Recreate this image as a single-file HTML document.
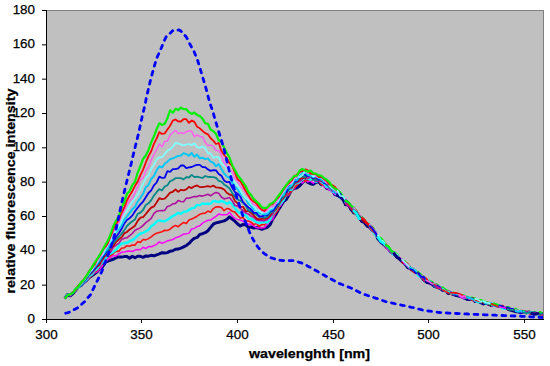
<!DOCTYPE html>
<html><head><meta charset="utf-8"><style>
html,body{margin:0;padding:0;background:#fff;width:550px;height:366px;overflow:hidden}
svg{display:block}
text{font-family:"Liberation Sans",sans-serif;font-size:13.4px;fill:#000;stroke:#000;stroke-width:0.25px}
.t{font-weight:bold;font-size:12.5px}
</style></head><body>
<svg width="550" height="366" viewBox="0 0 550 366">
<rect x="0" y="0" width="550" height="366" fill="#fff"/>
<rect x="46.5" y="10.5" width="497" height="309" fill="#C0C0C0" stroke="#808080" stroke-width="1"/>
<clipPath id="cp"><rect x="47" y="11" width="496" height="308"/></clipPath>
<g clip-path="url(#cp)">
<path d="M64.8 298.3L67.5 294.6L70.2 295.8L72.9 293.5L75.6 290.3L78.3 287.0L81.0 285.5L83.7 282.5L86.4 280.6L89.1 277.7L91.8 275.8L94.5 273.7L97.2 271.7L99.9 268.4L102.6 266.7L105.3 262.3L108.0 261.0L110.7 260.0L113.4 259.3L116.1 257.7L118.8 256.9L121.5 257.1L124.2 256.6L126.9 256.4L129.6 258.2L132.3 256.2L135.0 257.8L137.7 256.3L140.4 256.3L143.1 257.3L145.8 255.9L148.5 256.2L151.2 255.3L153.9 255.8L156.6 254.8L159.3 253.9L162.0 252.7L164.7 253.1L167.4 252.6L170.1 251.2L172.8 250.8L175.5 249.3L178.2 249.1L180.9 248.1L183.6 246.9L186.3 245.5L189.0 243.4L191.7 240.4L194.4 238.3L197.1 237.4L199.8 234.4L202.5 233.7L205.2 232.7L207.9 230.7L210.6 227.4L213.3 224.2L216.0 222.9L218.7 222.3L221.4 221.6L224.1 220.9L226.8 219.5L229.5 216.9L232.2 219.0L234.9 221.2L237.6 224.0L240.3 226.0L243.0 224.4L245.7 224.7L248.4 227.4L251.1 227.0L253.8 228.0L256.5 227.5L259.2 228.4L261.9 229.3L264.6 228.2L267.3 227.4L270.0 225.0L272.7 219.1L275.4 215.2L278.1 210.3L280.8 206.1L283.5 201.4L286.2 199.6L288.9 194.9L291.6 189.6L294.3 188.7L297.0 187.8L299.7 185.7L302.4 182.7L305.1 180.0L307.8 182.4L310.5 183.7L313.2 184.3L315.9 182.4L318.6 181.8L321.3 184.7L324.0 183.9L326.7 188.3L329.4 189.2L332.1 189.7L334.8 194.6L337.5 195.4" stroke="#000080" stroke-width="3.0" fill="none" stroke-linejoin="round"/>
<path d="M64.8 298.4L67.5 294.8L70.2 295.8L72.9 293.2L75.6 289.8L78.3 287.9L81.0 285.4L83.7 283.0L86.4 280.2L89.1 278.3L91.8 274.9L94.5 273.2L97.2 271.7L99.9 269.0L102.6 265.6L105.3 261.6L108.0 259.4L110.7 257.3L113.4 255.6L116.1 255.9L118.8 254.0L121.5 252.3L124.2 251.9L126.9 251.3L129.6 251.1L132.3 251.6L135.0 250.1L137.7 249.4L140.4 249.8L143.1 247.3L145.8 248.6L148.5 246.6L151.2 246.8L153.9 245.7L156.6 244.3L159.3 241.9L162.0 243.2L164.7 242.2L167.4 240.8L170.1 240.2L172.8 239.5L175.5 237.8L178.2 237.1L180.9 235.7L183.6 234.1L186.3 233.9L189.0 233.1L191.7 228.8L194.4 228.4L197.1 226.6L199.8 225.7L202.5 223.1L205.2 221.6L207.9 220.3L210.6 220.1L213.3 218.1L216.0 216.3L218.7 214.1L221.4 214.7L224.1 214.7L226.8 214.7L229.5 212.4L232.2 215.7L234.9 218.6L237.6 219.4L240.3 219.9L243.0 221.2L245.7 223.0L248.4 224.5L251.1 223.9L253.8 226.1L256.5 227.6L259.2 228.0L261.9 228.1L264.6 227.5L267.3 224.1L270.0 221.2L272.7 219.4L275.4 213.3L278.1 208.1L280.8 205.5L283.5 200.7L286.2 195.8L288.9 194.9L291.6 189.9L294.3 188.9L297.0 184.3L299.7 181.5L302.4 183.0L305.1 180.0L307.8 181.9L310.5 181.1L313.2 183.2L315.9 180.4L318.6 180.8L321.3 184.0L324.0 186.6L326.7 187.9L329.4 190.2L332.1 191.8L334.8 194.7L337.5 194.4" stroke="#FF00FF" stroke-width="1.5" fill="none" stroke-linejoin="round"/>
<path d="M64.8 298.5L67.5 294.6L70.2 294.9L72.9 293.1L75.6 289.9L78.3 286.9L81.0 284.3L83.7 281.8L86.4 279.5L89.1 277.8L91.8 275.3L94.5 272.3L97.2 270.4L99.9 266.2L102.6 263.9L105.3 260.6L108.0 256.9L110.7 255.5L113.4 253.5L116.1 251.1L118.8 251.4L121.5 248.3L124.2 247.8L126.9 245.7L129.6 246.3L132.3 245.1L135.0 245.1L137.7 241.8L140.4 242.4L143.1 239.5L145.8 239.9L148.5 238.6L151.2 236.9L153.9 234.6L156.6 233.3L159.3 232.5L162.0 231.7L164.7 230.2L167.4 230.5L170.1 229.2L172.8 226.8L175.5 225.5L178.2 226.7L180.9 224.4L183.6 222.4L186.3 223.4L189.0 220.0L191.7 218.9L194.4 217.8L197.1 216.2L199.8 214.3L202.5 213.4L205.2 213.2L207.9 211.1L210.6 212.2L213.3 208.6L216.0 206.9L218.7 206.8L221.4 207.5L224.1 210.7L226.8 208.5L229.5 209.1L232.2 211.3L234.9 212.0L237.6 215.5L240.3 218.0L243.0 217.5L245.7 220.9L248.4 221.0L251.1 222.2L253.8 224.7L256.5 223.4L259.2 226.5L261.9 224.5L264.6 224.7L267.3 221.8L270.0 220.0L272.7 216.0L275.4 213.3L278.1 209.9L280.8 202.9L283.5 198.3L286.2 196.4L288.9 194.1L291.6 190.8L294.3 187.6L297.0 185.1L299.7 182.5L302.4 178.5L305.1 181.4L307.8 179.6L310.5 180.2L313.2 179.7L315.9 179.9L318.6 180.5L321.3 184.5L324.0 184.9L326.7 187.0L329.4 187.8L332.1 191.2L334.8 191.5L337.5 194.1" stroke="#FF1010" stroke-width="1.6" fill="none" stroke-linejoin="round"/>
<path d="M64.8 298.5L67.5 294.8L70.2 294.4L72.9 292.5L75.6 289.4L78.3 287.7L81.0 285.0L83.7 281.8L86.4 279.7L89.1 276.1L91.8 274.5L94.5 270.9L97.2 268.7L99.9 265.2L102.6 261.8L105.3 258.8L108.0 255.3L110.7 253.6L113.4 251.9L116.1 249.7L118.8 246.0L121.5 243.5L124.2 243.2L126.9 242.7L129.6 241.2L132.3 240.2L135.0 238.2L137.7 235.6L140.4 233.5L143.1 232.8L145.8 231.4L148.5 229.9L151.2 226.3L153.9 224.5L156.6 221.7L159.3 220.3L162.0 221.0L164.7 221.2L167.4 219.8L170.1 217.9L172.8 216.1L175.5 214.7L178.2 212.8L180.9 213.9L183.6 211.6L186.3 211.6L189.0 209.9L191.7 208.4L194.4 207.8L197.1 204.9L199.8 205.4L202.5 203.4L205.2 203.9L207.9 203.7L210.6 203.8L213.3 200.9L216.0 201.3L218.7 202.0L221.4 201.0L224.1 201.9L226.8 203.9L229.5 202.2L232.2 204.4L234.9 208.1L237.6 211.4L240.3 213.2L243.0 214.1L245.7 215.1L248.4 218.8L251.1 218.9L253.8 220.1L256.5 222.3L259.2 223.2L261.9 222.2L264.6 222.1L267.3 222.6L270.0 219.7L272.7 214.3L275.4 210.5L278.1 206.5L280.8 203.1L283.5 200.1L286.2 195.0L288.9 189.9L291.6 189.8L294.3 183.9L297.0 183.1L299.7 181.9L302.4 179.8L305.1 177.9L307.8 178.7L310.5 179.7L313.2 178.9L315.9 181.9L318.6 180.2L321.3 182.0L324.0 183.8L326.7 186.9L329.4 187.3L332.1 191.4L334.8 192.1L337.5 195.3" stroke="#00FFFF" stroke-width="2.4" fill="none" stroke-linejoin="round"/>
<path d="M64.8 298.6L67.5 294.8L70.2 295.5L72.9 292.5L75.6 290.3L78.3 286.9L81.0 284.6L83.7 281.2L86.4 279.1L89.1 275.4L91.8 273.3L94.5 270.2L97.2 266.7L99.9 265.2L102.6 260.0L105.3 256.1L108.0 255.0L110.7 251.8L113.4 247.1L116.1 245.1L118.8 243.4L121.5 239.6L124.2 238.3L126.9 237.8L129.6 235.7L132.3 233.5L135.0 230.3L137.7 229.1L140.4 227.6L143.1 225.4L145.8 222.6L148.5 220.6L151.2 218.4L153.9 213.6L156.6 211.2L159.3 210.8L162.0 210.6L164.7 210.4L167.4 206.5L170.1 205.7L172.8 203.9L175.5 203.4L178.2 200.6L180.9 201.5L183.6 201.8L186.3 198.1L189.0 198.2L191.7 197.2L194.4 196.5L197.1 196.6L199.8 195.6L202.5 196.1L205.2 195.2L207.9 194.3L210.6 195.8L213.3 193.8L216.0 192.4L218.7 193.2L221.4 197.0L224.1 198.9L226.8 198.3L229.5 197.5L232.2 200.7L234.9 205.5L237.6 205.9L240.3 208.5L243.0 210.7L245.7 212.9L248.4 214.0L251.1 216.1L253.8 217.3L256.5 219.9L259.2 220.4L261.9 220.7L264.6 220.6L267.3 219.4L270.0 216.9L272.7 214.1L275.4 208.7L278.1 204.6L280.8 201.4L283.5 197.6L286.2 195.5L288.9 188.7L291.6 188.5L294.3 183.1L297.0 182.5L299.7 181.3L302.4 179.3L305.1 176.5L307.8 178.7L310.5 176.7L313.2 179.2L315.9 181.5L318.6 181.0L321.3 181.4L324.0 182.3L326.7 184.9L329.4 187.0L332.1 191.0L334.8 190.5L337.5 195.1" stroke="#B0109F" stroke-width="1.6" fill="none" stroke-linejoin="round"/>
<path d="M64.8 298.5L67.5 295.2L70.2 294.3L72.9 293.2L75.6 290.0L78.3 286.9L81.0 284.3L83.7 280.9L86.4 277.5L89.1 274.8L91.8 272.0L94.5 269.0L97.2 266.1L99.9 263.4L102.6 259.0L105.3 255.2L108.0 253.4L110.7 248.0L113.4 245.9L116.1 241.7L118.8 239.5L121.5 237.4L124.2 233.4L126.9 232.0L129.6 229.5L132.3 227.8L135.0 225.7L137.7 220.9L140.4 217.7L143.1 217.1L145.8 214.0L148.5 210.6L151.2 207.6L153.9 206.4L156.6 202.4L159.3 198.2L162.0 199.1L164.7 198.7L167.4 195.9L170.1 192.6L172.8 191.8L175.5 189.5L178.2 191.9L180.9 189.8L183.6 190.3L186.3 189.3L189.0 186.9L191.7 188.1L194.4 186.3L197.1 185.4L199.8 187.1L202.5 187.1L205.2 186.7L207.9 186.1L210.6 186.8L213.3 185.6L216.0 187.4L218.7 187.7L221.4 188.1L224.1 189.5L226.8 192.8L229.5 194.5L232.2 195.1L234.9 201.0L237.6 203.2L240.3 206.7L243.0 206.8L245.7 211.3L248.4 210.9L251.1 213.0L253.8 215.4L256.5 218.3L259.2 219.3L261.9 218.9L264.6 218.8L267.3 218.2L270.0 215.3L272.7 211.5L275.4 210.0L278.1 206.2L280.8 200.8L283.5 198.2L286.2 193.4L288.9 187.7L291.6 187.5L294.3 183.9L297.0 181.9L299.7 179.2L302.4 177.7L305.1 178.5L307.8 175.4L310.5 175.6L313.2 179.4L315.9 177.2L318.6 179.5L321.3 180.3L324.0 181.6L326.7 183.7L329.4 185.4L332.1 189.2L334.8 190.4L337.5 193.7" stroke="#C00000" stroke-width="1.8" fill="none" stroke-linejoin="round"/>
<path d="M64.8 298.6L67.5 295.0L70.2 295.3L72.9 292.6L75.6 290.1L78.3 287.1L81.0 284.6L83.7 281.0L86.4 278.0L89.1 275.2L91.8 271.7L94.5 268.4L97.2 264.9L99.9 261.6L102.6 257.2L105.3 253.9L108.0 251.1L110.7 246.7L113.4 242.8L116.1 239.7L118.8 237.0L121.5 233.9L124.2 230.4L126.9 226.0L129.6 223.5L132.3 221.2L135.0 219.4L137.7 213.8L140.4 212.7L143.1 209.8L145.8 205.0L148.5 203.3L151.2 200.1L153.9 195.6L156.6 192.2L159.3 189.1L162.0 190.5L164.7 186.6L167.4 185.3L170.1 181.3L172.8 180.1L175.5 178.2L178.2 178.1L180.9 178.2L183.6 179.4L186.3 177.1L189.0 177.5L191.7 174.9L194.4 177.1L197.1 176.7L199.8 177.3L202.5 178.0L205.2 176.0L207.9 176.8L210.6 177.0L213.3 177.1L216.0 177.8L218.7 180.8L221.4 181.6L224.1 184.4L226.8 186.3L229.5 188.4L232.2 192.9L234.9 196.8L237.6 199.5L240.3 200.7L243.0 202.6L245.7 205.6L248.4 210.5L251.1 211.1L253.8 213.3L256.5 214.7L259.2 216.8L261.9 216.8L264.6 217.8L267.3 216.7L270.0 213.2L272.7 211.6L275.4 208.1L278.1 205.2L280.8 199.0L283.5 196.6L286.2 191.6L288.9 189.9L291.6 186.3L294.3 183.0L297.0 180.9L299.7 176.7L302.4 176.4L305.1 177.4L307.8 174.7L310.5 175.3L313.2 179.5L315.9 180.2L318.6 179.8L321.3 179.5L324.0 182.0L326.7 184.1L329.4 187.2L332.1 188.8L334.8 192.2L337.5 193.8" stroke="#008888" stroke-width="1.8" fill="none" stroke-linejoin="round"/>
<path d="M64.8 298.5L67.5 295.3L70.2 294.2L72.9 293.1L75.6 289.3L78.3 286.7L81.0 283.4L83.7 281.2L86.4 276.9L89.1 273.8L91.8 271.3L94.5 268.5L97.2 263.7L99.9 260.3L102.6 256.6L105.3 253.2L108.0 248.4L110.7 245.3L113.4 240.4L116.1 236.9L118.8 233.3L121.5 229.0L124.2 223.7L126.9 220.0L129.6 218.2L132.3 215.6L135.0 211.2L137.7 207.7L140.4 204.4L143.1 201.6L145.8 197.3L148.5 193.0L151.2 190.4L153.9 185.3L156.6 182.5L159.3 176.7L162.0 177.8L164.7 177.6L167.4 171.2L170.1 171.8L172.8 169.1L175.5 169.2L178.2 168.3L180.9 165.5L183.6 165.5L186.3 168.1L189.0 167.3L191.7 167.0L194.4 165.7L197.1 164.9L199.8 164.9L202.5 167.1L205.2 167.2L207.9 169.4L210.6 170.9L213.3 170.2L216.0 170.4L218.7 174.0L221.4 175.8L224.1 180.4L226.8 182.2L229.5 181.8L232.2 187.8L234.9 192.0L237.6 193.7L240.3 196.5L243.0 202.1L245.7 204.8L248.4 207.4L251.1 209.5L253.8 212.9L256.5 212.8L259.2 216.5L261.9 216.4L264.6 215.4L267.3 215.2L270.0 211.0L272.7 210.8L275.4 207.0L278.1 202.9L280.8 197.6L283.5 193.1L286.2 192.2L288.9 186.9L291.6 184.6L294.3 181.7L297.0 180.6L299.7 176.1L302.4 174.2L305.1 174.8L307.8 176.2L310.5 175.5L313.2 178.1L315.9 176.8L318.6 179.7L321.3 178.5L324.0 183.1L326.7 183.4L329.4 185.6L332.1 188.2L334.8 191.8L337.5 193.7" stroke="#0000F0" stroke-width="1.8" fill="none" stroke-linejoin="round"/>
<path d="M64.8 298.6L67.5 295.2L70.2 294.6L72.9 292.8L75.6 288.8L78.3 285.8L81.0 284.2L83.7 280.0L86.4 276.7L89.1 273.8L91.8 269.5L94.5 267.1L97.2 262.9L99.9 259.4L102.6 255.2L105.3 251.5L108.0 248.0L110.7 242.3L113.4 236.1L116.1 232.2L118.8 229.5L121.5 225.5L124.2 219.8L126.9 216.7L129.6 212.9L132.3 209.3L135.0 206.9L137.7 201.5L140.4 197.8L143.1 193.8L145.8 187.2L148.5 184.9L151.2 178.9L153.9 176.2L156.6 170.3L159.3 166.3L162.0 167.4L164.7 163.8L167.4 161.8L170.1 159.1L172.8 158.4L175.5 157.2L178.2 155.9L180.9 155.5L183.6 153.3L186.3 154.1L189.0 155.8L191.7 153.0L194.4 156.8L197.1 154.6L199.8 158.3L202.5 157.7L205.2 159.1L207.9 158.4L210.6 161.6L213.3 162.7L216.0 166.3L218.7 164.1L221.4 169.0L224.1 173.5L226.8 176.4L229.5 177.8L232.2 182.4L234.9 186.7L237.6 189.1L240.3 193.3L243.0 196.2L245.7 198.8L248.4 203.7L251.1 205.8L253.8 209.6L256.5 210.2L259.2 213.4L261.9 213.6L264.6 214.5L267.3 213.8L270.0 210.3L272.7 208.8L275.4 203.9L278.1 202.1L280.8 196.4L283.5 195.1L286.2 188.6L288.9 187.3L291.6 185.4L294.3 179.5L297.0 180.0L299.7 175.9L302.4 172.8L305.1 172.2L307.8 174.8L310.5 175.9L313.2 176.9L315.9 176.2L318.6 177.9L321.3 179.1L324.0 181.8L326.7 182.5L329.4 183.4L332.1 188.9L334.8 191.5L337.5 194.1" stroke="#00C8F8" stroke-width="2.0" fill="none" stroke-linejoin="round"/>
<path d="M64.8 298.3L67.5 295.2L70.2 294.8L72.9 292.0L75.6 289.7L78.3 286.0L81.0 283.3L83.7 280.8L86.4 276.8L89.1 272.4L91.8 270.2L94.5 265.7L97.2 262.4L99.9 257.4L102.6 254.5L105.3 249.2L108.0 244.5L110.7 240.4L113.4 235.6L116.1 230.5L118.8 225.7L121.5 221.4L124.2 214.5L126.9 211.3L129.6 205.7L132.3 202.3L135.0 198.3L137.7 194.3L140.4 189.7L143.1 183.9L145.8 178.0L148.5 175.6L151.2 169.2L153.9 164.6L156.6 159.4L159.3 157.3L162.0 157.3L164.7 154.0L167.4 150.8L170.1 149.3L172.8 146.8L175.5 143.0L178.2 143.3L180.9 144.6L183.6 145.3L186.3 144.6L189.0 144.1L191.7 145.2L194.4 143.3L197.1 147.2L199.8 147.9L202.5 146.4L205.2 148.1L207.9 153.3L210.6 153.5L213.3 157.8L216.0 156.8L218.7 157.3L221.4 163.6L224.1 165.4L226.8 168.7L229.5 172.2L232.2 178.2L234.9 182.8L237.6 185.5L240.3 190.3L243.0 195.3L245.7 198.3L248.4 200.2L251.1 204.2L253.8 206.4L256.5 210.5L259.2 210.4L261.9 213.0L264.6 212.2L267.3 211.4L270.0 208.7L272.7 207.7L275.4 203.9L278.1 201.2L280.8 195.6L283.5 191.8L286.2 187.3L288.9 183.7L291.6 183.5L294.3 178.2L297.0 176.8L299.7 176.9L302.4 175.0L305.1 171.2L307.8 171.4L310.5 173.1L313.2 176.5L315.9 175.9L318.6 177.5L321.3 177.2L324.0 179.8L326.7 181.3L329.4 185.8L332.1 188.3L334.8 189.6L337.5 190.8" stroke="#80FFFF" stroke-width="1.8" fill="none" stroke-linejoin="round"/>
<path d="M64.8 298.5L67.5 295.3L70.2 294.0L72.9 292.2L75.6 289.6L78.3 286.2L81.0 283.6L83.7 279.5L86.4 276.8L89.1 272.9L91.8 268.7L94.5 265.2L97.2 261.0L99.9 257.5L102.6 253.0L105.3 247.6L108.0 244.6L110.7 237.0L113.4 231.5L116.1 228.2L118.8 223.0L121.5 216.1L124.2 210.6L126.9 205.0L129.6 200.4L132.3 198.8L135.0 192.8L137.7 187.0L140.4 179.8L143.1 177.9L145.8 170.9L148.5 167.0L151.2 160.1L153.9 154.5L156.6 149.8L159.3 144.0L162.0 146.8L164.7 141.3L167.4 141.2L170.1 135.1L172.8 132.5L175.5 130.2L178.2 133.5L180.9 132.7L183.6 133.5L186.3 131.8L189.0 130.7L191.7 131.3L194.4 136.6L197.1 135.0L199.8 136.4L202.5 136.8L205.2 142.3L207.9 145.4L210.6 144.9L213.3 146.3L216.0 150.5L218.7 150.5L221.4 154.9L224.1 162.9L226.8 166.5L229.5 170.6L232.2 171.6L234.9 178.8L237.6 181.2L240.3 186.2L243.0 188.9L245.7 192.9L248.4 196.6L251.1 201.0L253.8 204.7L256.5 205.4L259.2 208.5L261.9 210.4L264.6 212.2L267.3 210.3L270.0 207.0L272.7 206.8L275.4 204.2L278.1 199.3L280.8 194.9L283.5 190.8L286.2 187.5L288.9 184.1L291.6 182.7L294.3 177.8L297.0 177.3L299.7 172.6L302.4 170.9L305.1 170.7L307.8 173.3L310.5 171.2L313.2 172.3L315.9 176.4L318.6 175.8L321.3 177.3L324.0 180.0L326.7 183.2L329.4 182.6L332.1 187.1L334.8 189.9L337.5 192.4" stroke="#FF60F0" stroke-width="1.5" fill="none" stroke-linejoin="round"/>
<path d="M64.8 298.6L67.5 295.4L70.2 294.7L72.9 292.1L75.6 289.9L78.3 285.6L81.0 282.9L83.7 279.7L86.4 275.9L89.1 271.3L91.8 267.9L94.5 265.0L97.2 259.3L99.9 255.5L102.6 250.0L105.3 247.0L108.0 242.7L110.7 236.0L113.4 228.7L116.1 224.1L118.8 220.1L121.5 212.8L124.2 207.5L126.9 200.5L129.6 195.5L132.3 191.2L135.0 185.8L137.7 181.5L140.4 175.2L143.1 169.6L145.8 162.5L148.5 156.1L151.2 151.3L153.9 143.8L156.6 138.6L159.3 132.1L162.0 133.9L164.7 133.4L167.4 129.5L170.1 125.7L172.8 120.6L175.5 119.5L178.2 121.4L180.9 121.5L183.6 119.1L186.3 119.2L189.0 122.9L191.7 120.5L194.4 121.9L197.1 126.8L199.8 128.3L202.5 130.8L205.2 133.2L207.9 134.3L210.6 138.3L213.3 140.6L216.0 144.0L218.7 143.0L221.4 151.0L224.1 155.0L226.8 157.9L229.5 163.2L232.2 166.0L234.9 172.4L237.6 179.3L240.3 181.3L243.0 185.8L245.7 190.8L248.4 195.6L251.1 199.4L253.8 201.6L256.5 203.4L259.2 207.3L261.9 209.8L264.6 210.8L267.3 207.3L270.0 204.9L272.7 204.1L275.4 200.2L278.1 197.7L280.8 193.7L283.5 189.4L286.2 185.7L288.9 183.1L291.6 180.4L294.3 176.6L297.0 174.5L299.7 171.9L302.4 171.1L305.1 169.4L307.8 170.3L310.5 173.6L313.2 174.1L315.9 173.8L318.6 177.1L321.3 176.9L324.0 179.0L326.7 180.9L329.4 184.7L332.1 185.1L334.8 186.7L337.5 190.4" stroke="#FF0000" stroke-width="1.8" fill="none" stroke-linejoin="round"/>
<path d="M64.8 298.6L67.5 295.4L70.2 294.1L72.9 293.0L75.6 288.8L78.3 286.6L81.0 282.4L83.7 280.1L86.4 275.8L89.1 271.7L91.8 267.6L94.5 262.9L97.2 259.0L99.9 254.7L102.6 250.1L105.3 245.0L108.0 240.6L110.7 233.8L113.4 226.0L116.1 220.7L118.8 216.0L121.5 207.6L124.2 202.3L126.9 193.8L129.6 191.2L132.3 185.1L135.0 181.6L137.7 172.8L140.4 165.8L143.1 159.0L145.8 155.5L148.5 149.9L151.2 142.4L153.9 136.5L156.6 129.2L159.3 123.3L162.0 124.9L164.7 123.7L167.4 118.2L170.1 110.3L172.8 112.8L175.5 108.8L178.2 110.1L180.9 107.6L183.6 109.2L186.3 109.2L189.0 112.2L191.7 113.9L194.4 112.6L197.1 114.9L199.8 116.0L202.5 118.6L205.2 123.2L207.9 123.8L210.6 129.5L213.3 131.1L216.0 133.9L218.7 140.3L221.4 142.0L224.1 147.5L226.8 152.8L229.5 157.5L232.2 165.2L234.9 170.0L237.6 175.3L240.3 178.5L243.0 182.4L245.7 186.2L248.4 192.1L251.1 195.0L253.8 199.1L256.5 201.6L259.2 204.0L261.9 207.4L264.6 208.1L267.3 207.6L270.0 204.2L272.7 202.7L275.4 200.3L278.1 196.2L280.8 192.8L283.5 188.7L286.2 185.2L288.9 181.6L291.6 179.1L294.3 175.9L297.0 175.7L299.7 170.4L302.4 169.0L305.1 170.4L307.8 171.7L310.5 170.6L313.2 173.3L315.9 173.6L318.6 175.3L321.3 175.7L324.0 178.1L326.7 179.8L329.4 182.1L332.1 186.4L334.8 188.5L337.5 190.2" stroke="#00F000" stroke-width="2.2" fill="none" stroke-linejoin="round"/>
<path d="M337.5 193.8L340.2 194.3L342.9 198.2L345.6 203.0" stroke="#008888" stroke-width="1.8" fill="none" stroke-linejoin="round" stroke-linecap="round"/>
<path d="M337.5 195.3L340.2 197.9L342.9 198.1L345.6 202.6" stroke="#00FFFF" stroke-width="2.4" fill="none" stroke-linejoin="round" stroke-linecap="round"/>
<path d="M337.5 194.1L340.2 194.8L342.9 196.4L345.6 202.2" stroke="#00C8F8" stroke-width="2.0" fill="none" stroke-linejoin="round" stroke-linecap="round"/>
<path d="M337.5 193.7L340.2 197.1L342.9 198.4L345.6 203.3" stroke="#C00000" stroke-width="1.8" fill="none" stroke-linejoin="round" stroke-linecap="round"/>
<path d="M337.5 195.1L340.2 197.6L342.9 198.4L345.6 203.2" stroke="#B0109F" stroke-width="1.6" fill="none" stroke-linejoin="round" stroke-linecap="round"/>
<path d="M337.5 190.4L340.2 193.2L342.9 197.0L345.6 200.6" stroke="#FF0000" stroke-width="1.8" fill="none" stroke-linejoin="round" stroke-linecap="round"/>
<path d="M337.5 194.1L340.2 197.5L342.9 198.7L345.6 204.0" stroke="#FF1010" stroke-width="1.6" fill="none" stroke-linejoin="round" stroke-linecap="round"/>
<path d="M337.5 190.2L340.2 192.3L342.9 196.4L345.6 200.7" stroke="#00F000" stroke-width="2.2" fill="none" stroke-linejoin="round" stroke-linecap="round"/>
<path d="M337.5 192.4L340.2 194.7L342.9 197.4L345.6 198.8" stroke="#FF60F0" stroke-width="1.5" fill="none" stroke-linejoin="round" stroke-linecap="round"/>
<path d="M337.5 193.7L340.2 193.7L342.9 199.2L345.6 200.0" stroke="#0000F0" stroke-width="1.8" fill="none" stroke-linejoin="round" stroke-linecap="round"/>
<path d="M337.5 194.4L340.2 196.4L342.9 199.3L345.6 203.3" stroke="#FF00FF" stroke-width="1.5" fill="none" stroke-linejoin="round" stroke-linecap="round"/>
<path d="M337.5 195.4L340.2 196.8L342.9 199.5L345.6 204.6" stroke="#000080" stroke-width="3.0" fill="none" stroke-linejoin="round" stroke-linecap="round"/>
<path d="M337.5 190.8L340.2 195.9L342.9 196.1L345.6 200.3" stroke="#80FFFF" stroke-width="1.8" fill="none" stroke-linejoin="round" stroke-linecap="round"/>
<path d="M345.6 198.8L348.3 204.2L351.0 206.7L353.7 207.6" stroke="#FF60F0" stroke-width="1.5" fill="none" stroke-linejoin="round" stroke-linecap="round"/>
<path d="M345.6 200.0L348.3 202.2L351.0 205.4L353.7 210.4" stroke="#0000F0" stroke-width="1.8" fill="none" stroke-linejoin="round" stroke-linecap="round"/>
<path d="M345.6 203.0L348.3 205.8L351.0 206.8L353.7 209.8" stroke="#008888" stroke-width="1.8" fill="none" stroke-linejoin="round" stroke-linecap="round"/>
<path d="M345.6 204.6L348.3 205.0L351.0 209.6L353.7 212.6" stroke="#000080" stroke-width="3.0" fill="none" stroke-linejoin="round" stroke-linecap="round"/>
<path d="M345.6 202.6L348.3 204.0L351.0 207.3L353.7 210.8" stroke="#00FFFF" stroke-width="2.4" fill="none" stroke-linejoin="round" stroke-linecap="round"/>
<path d="M345.6 200.3L348.3 203.6L351.0 206.3L353.7 208.7" stroke="#80FFFF" stroke-width="1.8" fill="none" stroke-linejoin="round" stroke-linecap="round"/>
<path d="M345.6 200.6L348.3 203.2L351.0 206.1L353.7 210.0" stroke="#FF0000" stroke-width="1.8" fill="none" stroke-linejoin="round" stroke-linecap="round"/>
<path d="M345.6 202.2L348.3 203.5L351.0 207.1L353.7 210.0" stroke="#00C8F8" stroke-width="2.0" fill="none" stroke-linejoin="round" stroke-linecap="round"/>
<path d="M345.6 203.3L348.3 205.1L351.0 208.6L353.7 210.6" stroke="#C00000" stroke-width="1.8" fill="none" stroke-linejoin="round" stroke-linecap="round"/>
<path d="M345.6 203.3L348.3 205.4L351.0 206.9L353.7 210.2" stroke="#FF00FF" stroke-width="1.5" fill="none" stroke-linejoin="round" stroke-linecap="round"/>
<path d="M345.6 204.0L348.3 204.6L351.0 208.1L353.7 212.5" stroke="#FF1010" stroke-width="1.6" fill="none" stroke-linejoin="round" stroke-linecap="round"/>
<path d="M345.6 203.2L348.3 206.4L351.0 207.4L353.7 210.0" stroke="#B0109F" stroke-width="1.6" fill="none" stroke-linejoin="round" stroke-linecap="round"/>
<path d="M345.6 200.7L348.3 202.1L351.0 205.7L353.7 207.7" stroke="#00F000" stroke-width="2.2" fill="none" stroke-linejoin="round" stroke-linecap="round"/>
<path d="M353.7 210.0L356.4 210.5L359.1 214.9L361.8 217.7" stroke="#FF0000" stroke-width="1.8" fill="none" stroke-linejoin="round" stroke-linecap="round"/>
<path d="M353.7 210.0L356.4 213.8L359.1 217.3L361.8 219.7" stroke="#B0109F" stroke-width="1.6" fill="none" stroke-linejoin="round" stroke-linecap="round"/>
<path d="M353.7 208.7L356.4 212.0L359.1 215.1L361.8 219.1" stroke="#80FFFF" stroke-width="1.8" fill="none" stroke-linejoin="round" stroke-linecap="round"/>
<path d="M353.7 210.4L356.4 213.2L359.1 215.2L361.8 220.0" stroke="#0000F0" stroke-width="1.8" fill="none" stroke-linejoin="round" stroke-linecap="round"/>
<path d="M353.7 210.2L356.4 214.0L359.1 217.4L361.8 219.6" stroke="#FF00FF" stroke-width="1.5" fill="none" stroke-linejoin="round" stroke-linecap="round"/>
<path d="M353.7 207.7L356.4 212.0L359.1 215.9L361.8 217.1" stroke="#00F000" stroke-width="2.2" fill="none" stroke-linejoin="round" stroke-linecap="round"/>
<path d="M353.7 210.0L356.4 211.4L359.1 216.8L361.8 217.6" stroke="#00C8F8" stroke-width="2.0" fill="none" stroke-linejoin="round" stroke-linecap="round"/>
<path d="M353.7 210.6L356.4 213.0L359.1 216.4L361.8 219.7" stroke="#C00000" stroke-width="1.8" fill="none" stroke-linejoin="round" stroke-linecap="round"/>
<path d="M353.7 212.6L356.4 213.7L359.1 217.9L361.8 221.2" stroke="#000080" stroke-width="3.0" fill="none" stroke-linejoin="round" stroke-linecap="round"/>
<path d="M353.7 207.6L356.4 211.9L359.1 214.5L361.8 217.0" stroke="#FF60F0" stroke-width="1.5" fill="none" stroke-linejoin="round" stroke-linecap="round"/>
<path d="M353.7 212.5L356.4 214.0L359.1 217.8L361.8 220.5" stroke="#FF1010" stroke-width="1.6" fill="none" stroke-linejoin="round" stroke-linecap="round"/>
<path d="M353.7 209.8L356.4 212.2L359.1 215.6L361.8 218.4" stroke="#008888" stroke-width="1.8" fill="none" stroke-linejoin="round" stroke-linecap="round"/>
<path d="M353.7 210.8L356.4 213.6L359.1 218.9L361.8 219.1" stroke="#00FFFF" stroke-width="2.4" fill="none" stroke-linejoin="round" stroke-linecap="round"/>
<path d="M361.8 219.7L364.5 221.8L367.2 225.2L369.9 226.3" stroke="#B0109F" stroke-width="1.6" fill="none" stroke-linejoin="round" stroke-linecap="round"/>
<path d="M361.8 220.5L364.5 222.0L367.2 224.0L369.9 227.3" stroke="#FF1010" stroke-width="1.6" fill="none" stroke-linejoin="round" stroke-linecap="round"/>
<path d="M361.8 219.6L364.5 222.6L367.2 225.3L369.9 228.4" stroke="#FF00FF" stroke-width="1.5" fill="none" stroke-linejoin="round" stroke-linecap="round"/>
<path d="M361.8 217.1L364.5 220.0L367.2 223.2L369.9 225.2" stroke="#00F000" stroke-width="2.2" fill="none" stroke-linejoin="round" stroke-linecap="round"/>
<path d="M361.8 218.4L364.5 220.9L367.2 223.8L369.9 226.2" stroke="#008888" stroke-width="1.8" fill="none" stroke-linejoin="round" stroke-linecap="round"/>
<path d="M361.8 219.1L364.5 221.5L367.2 224.6L369.9 226.3" stroke="#00FFFF" stroke-width="2.4" fill="none" stroke-linejoin="round" stroke-linecap="round"/>
<path d="M361.8 219.1L364.5 219.7L367.2 222.9L369.9 225.2" stroke="#80FFFF" stroke-width="1.8" fill="none" stroke-linejoin="round" stroke-linecap="round"/>
<path d="M361.8 217.6L364.5 220.6L367.2 223.8L369.9 225.9" stroke="#00C8F8" stroke-width="2.0" fill="none" stroke-linejoin="round" stroke-linecap="round"/>
<path d="M361.8 221.2L364.5 222.7L367.2 226.1L369.9 227.3" stroke="#000080" stroke-width="3.0" fill="none" stroke-linejoin="round" stroke-linecap="round"/>
<path d="M361.8 217.0L364.5 221.8L367.2 224.1L369.9 224.7" stroke="#FF60F0" stroke-width="1.5" fill="none" stroke-linejoin="round" stroke-linecap="round"/>
<path d="M361.8 220.0L364.5 221.7L367.2 223.1L369.9 226.2" stroke="#0000F0" stroke-width="1.8" fill="none" stroke-linejoin="round" stroke-linecap="round"/>
<path d="M361.8 219.7L364.5 222.1L367.2 224.0L369.9 227.8" stroke="#C00000" stroke-width="1.8" fill="none" stroke-linejoin="round" stroke-linecap="round"/>
<path d="M361.8 217.7L364.5 219.6L367.2 223.3L369.9 224.9" stroke="#FF0000" stroke-width="1.8" fill="none" stroke-linejoin="round" stroke-linecap="round"/>
<path d="M369.9 227.8L372.6 229.2L375.3 234.1L378.0 237.6" stroke="#C00000" stroke-width="1.8" fill="none" stroke-linejoin="round" stroke-linecap="round"/>
<path d="M369.9 225.2L372.6 227.4L375.3 232.0L378.0 236.7" stroke="#00F000" stroke-width="2.2" fill="none" stroke-linejoin="round" stroke-linecap="round"/>
<path d="M369.9 224.9L372.6 227.9L375.3 231.8L378.0 236.1" stroke="#FF0000" stroke-width="1.8" fill="none" stroke-linejoin="round" stroke-linecap="round"/>
<path d="M369.9 226.2L372.6 228.5L375.3 233.3L378.0 237.4" stroke="#008888" stroke-width="1.8" fill="none" stroke-linejoin="round" stroke-linecap="round"/>
<path d="M369.9 226.3L372.6 231.1L375.3 233.5L378.0 236.0" stroke="#B0109F" stroke-width="1.6" fill="none" stroke-linejoin="round" stroke-linecap="round"/>
<path d="M369.9 225.2L372.6 229.2L375.3 231.6L378.0 235.0" stroke="#80FFFF" stroke-width="1.8" fill="none" stroke-linejoin="round" stroke-linecap="round"/>
<path d="M369.9 225.9L372.6 230.2L375.3 231.5L378.0 237.0" stroke="#00C8F8" stroke-width="2.0" fill="none" stroke-linejoin="round" stroke-linecap="round"/>
<path d="M369.9 224.7L372.6 228.5L375.3 231.5L378.0 235.7" stroke="#FF60F0" stroke-width="1.5" fill="none" stroke-linejoin="round" stroke-linecap="round"/>
<path d="M369.9 227.3L372.6 231.0L375.3 233.5L378.0 238.8" stroke="#000080" stroke-width="3.0" fill="none" stroke-linejoin="round" stroke-linecap="round"/>
<path d="M369.9 228.4L372.6 230.1L375.3 235.2L378.0 237.4" stroke="#FF00FF" stroke-width="1.5" fill="none" stroke-linejoin="round" stroke-linecap="round"/>
<path d="M369.9 226.3L372.6 231.2L375.3 234.9L378.0 237.6" stroke="#00FFFF" stroke-width="2.4" fill="none" stroke-linejoin="round" stroke-linecap="round"/>
<path d="M369.9 227.3L372.6 231.0L375.3 233.6L378.0 238.0" stroke="#FF1010" stroke-width="1.6" fill="none" stroke-linejoin="round" stroke-linecap="round"/>
<path d="M369.9 226.2L372.6 228.7L375.3 232.7L378.0 237.5" stroke="#0000F0" stroke-width="1.8" fill="none" stroke-linejoin="round" stroke-linecap="round"/>
<path d="M378.0 237.0L380.7 240.6L383.4 243.2L386.1 245.4" stroke="#00C8F8" stroke-width="2.0" fill="none" stroke-linejoin="round" stroke-linecap="round"/>
<path d="M378.0 236.0L380.7 239.7L383.4 243.5L386.1 247.1" stroke="#B0109F" stroke-width="1.6" fill="none" stroke-linejoin="round" stroke-linecap="round"/>
<path d="M378.0 237.5L380.7 240.3L383.4 241.8L386.1 246.3" stroke="#0000F0" stroke-width="1.8" fill="none" stroke-linejoin="round" stroke-linecap="round"/>
<path d="M378.0 236.1L380.7 238.4L383.4 242.5L386.1 244.4" stroke="#FF0000" stroke-width="1.8" fill="none" stroke-linejoin="round" stroke-linecap="round"/>
<path d="M378.0 238.8L380.7 242.1L383.4 244.3L386.1 246.6" stroke="#000080" stroke-width="3.0" fill="none" stroke-linejoin="round" stroke-linecap="round"/>
<path d="M378.0 235.7L380.7 240.2L383.4 243.0L386.1 246.4" stroke="#FF60F0" stroke-width="1.5" fill="none" stroke-linejoin="round" stroke-linecap="round"/>
<path d="M378.0 238.0L380.7 240.3L383.4 243.5L386.1 247.8" stroke="#FF1010" stroke-width="1.6" fill="none" stroke-linejoin="round" stroke-linecap="round"/>
<path d="M378.0 236.7L380.7 238.0L383.4 241.0L386.1 245.3" stroke="#00F000" stroke-width="2.2" fill="none" stroke-linejoin="round" stroke-linecap="round"/>
<path d="M378.0 237.4L380.7 240.9L383.4 243.7L386.1 247.5" stroke="#FF00FF" stroke-width="1.5" fill="none" stroke-linejoin="round" stroke-linecap="round"/>
<path d="M378.0 237.4L380.7 240.7L383.4 242.7L386.1 244.8" stroke="#008888" stroke-width="1.8" fill="none" stroke-linejoin="round" stroke-linecap="round"/>
<path d="M378.0 237.6L380.7 241.0L383.4 242.1L386.1 247.3" stroke="#C00000" stroke-width="1.8" fill="none" stroke-linejoin="round" stroke-linecap="round"/>
<path d="M378.0 235.0L380.7 240.1L383.4 241.5L386.1 245.2" stroke="#80FFFF" stroke-width="1.8" fill="none" stroke-linejoin="round" stroke-linecap="round"/>
<path d="M378.0 237.6L380.7 241.5L383.4 243.3L386.1 246.2" stroke="#00FFFF" stroke-width="2.4" fill="none" stroke-linejoin="round" stroke-linecap="round"/>
<path d="M386.1 247.3L388.8 249.5L391.5 251.2L394.2 255.0" stroke="#C00000" stroke-width="1.8" fill="none" stroke-linejoin="round" stroke-linecap="round"/>
<path d="M386.1 244.8L388.8 249.0L391.5 250.3L394.2 252.7" stroke="#008888" stroke-width="1.8" fill="none" stroke-linejoin="round" stroke-linecap="round"/>
<path d="M386.1 246.6L388.8 249.5L391.5 252.7L394.2 253.9" stroke="#000080" stroke-width="3.0" fill="none" stroke-linejoin="round" stroke-linecap="round"/>
<path d="M386.1 247.8L388.8 248.4L391.5 253.1L394.2 253.3" stroke="#FF1010" stroke-width="1.6" fill="none" stroke-linejoin="round" stroke-linecap="round"/>
<path d="M386.1 246.2L388.8 249.0L391.5 252.9L394.2 255.0" stroke="#00FFFF" stroke-width="2.4" fill="none" stroke-linejoin="round" stroke-linecap="round"/>
<path d="M386.1 245.2L388.8 248.6L391.5 250.2L394.2 253.0" stroke="#80FFFF" stroke-width="1.8" fill="none" stroke-linejoin="round" stroke-linecap="round"/>
<path d="M386.1 246.3L388.8 249.6L391.5 251.6L394.2 252.8" stroke="#0000F0" stroke-width="1.8" fill="none" stroke-linejoin="round" stroke-linecap="round"/>
<path d="M386.1 246.4L388.8 248.9L391.5 250.7L394.2 252.6" stroke="#FF60F0" stroke-width="1.5" fill="none" stroke-linejoin="round" stroke-linecap="round"/>
<path d="M386.1 247.5L388.8 250.3L391.5 252.1L394.2 254.3" stroke="#FF00FF" stroke-width="1.5" fill="none" stroke-linejoin="round" stroke-linecap="round"/>
<path d="M386.1 247.1L388.8 248.4L391.5 252.9L394.2 253.1" stroke="#B0109F" stroke-width="1.6" fill="none" stroke-linejoin="round" stroke-linecap="round"/>
<path d="M386.1 244.4L388.8 248.8L391.5 250.8L394.2 254.0" stroke="#FF0000" stroke-width="1.8" fill="none" stroke-linejoin="round" stroke-linecap="round"/>
<path d="M386.1 245.4L388.8 248.5L391.5 251.0L394.2 254.0" stroke="#00C8F8" stroke-width="2.0" fill="none" stroke-linejoin="round" stroke-linecap="round"/>
<path d="M386.1 245.3L388.8 246.7L391.5 251.2L394.2 252.3" stroke="#00F000" stroke-width="2.2" fill="none" stroke-linejoin="round" stroke-linecap="round"/>
<path d="M394.2 252.8L396.9 257.0L399.6 257.7L402.3 261.7" stroke="#0000F0" stroke-width="1.8" fill="none" stroke-linejoin="round" stroke-linecap="round"/>
<path d="M394.2 254.3L396.9 256.0L399.6 258.8L402.3 260.8" stroke="#FF00FF" stroke-width="1.5" fill="none" stroke-linejoin="round" stroke-linecap="round"/>
<path d="M394.2 255.0L396.9 255.5L399.6 258.3L402.3 261.5" stroke="#00FFFF" stroke-width="2.4" fill="none" stroke-linejoin="round" stroke-linecap="round"/>
<path d="M394.2 252.3L396.9 254.2L399.6 258.2L402.3 260.1" stroke="#00F000" stroke-width="2.2" fill="none" stroke-linejoin="round" stroke-linecap="round"/>
<path d="M394.2 255.0L396.9 256.5L399.6 259.9L402.3 262.4" stroke="#C00000" stroke-width="1.8" fill="none" stroke-linejoin="round" stroke-linecap="round"/>
<path d="M394.2 254.0L396.9 256.0L399.6 258.3L402.3 259.4" stroke="#FF0000" stroke-width="1.8" fill="none" stroke-linejoin="round" stroke-linecap="round"/>
<path d="M394.2 253.0L396.9 254.6L399.6 259.4L402.3 259.4" stroke="#80FFFF" stroke-width="1.8" fill="none" stroke-linejoin="round" stroke-linecap="round"/>
<path d="M394.2 252.7L396.9 256.9L399.6 258.6L402.3 260.4" stroke="#008888" stroke-width="1.8" fill="none" stroke-linejoin="round" stroke-linecap="round"/>
<path d="M394.2 254.0L396.9 255.4L399.6 258.0L402.3 260.4" stroke="#00C8F8" stroke-width="2.0" fill="none" stroke-linejoin="round" stroke-linecap="round"/>
<path d="M394.2 252.6L396.9 256.4L399.6 257.4L402.3 259.5" stroke="#FF60F0" stroke-width="1.5" fill="none" stroke-linejoin="round" stroke-linecap="round"/>
<path d="M394.2 253.3L396.9 257.7L399.6 259.0L402.3 262.2" stroke="#FF1010" stroke-width="1.6" fill="none" stroke-linejoin="round" stroke-linecap="round"/>
<path d="M394.2 253.1L396.9 257.7L399.6 258.2L402.3 261.6" stroke="#B0109F" stroke-width="1.6" fill="none" stroke-linejoin="round" stroke-linecap="round"/>
<path d="M394.2 253.9L396.9 257.3L399.6 259.1L402.3 261.6" stroke="#000080" stroke-width="3.0" fill="none" stroke-linejoin="round" stroke-linecap="round"/>
<path d="M402.3 261.7L405.0 264.1L407.7 265.5L410.4 269.2" stroke="#0000F0" stroke-width="1.8" fill="none" stroke-linejoin="round" stroke-linecap="round"/>
<path d="M402.3 261.5L405.0 264.0L407.7 266.3L410.4 268.2" stroke="#00FFFF" stroke-width="2.4" fill="none" stroke-linejoin="round" stroke-linecap="round"/>
<path d="M402.3 261.6L405.0 264.0L407.7 267.7L410.4 268.2" stroke="#000080" stroke-width="3.0" fill="none" stroke-linejoin="round" stroke-linecap="round"/>
<path d="M402.3 260.4L405.0 263.4L407.7 266.5L410.4 268.9" stroke="#00C8F8" stroke-width="2.0" fill="none" stroke-linejoin="round" stroke-linecap="round"/>
<path d="M402.3 260.1L405.0 261.4L407.7 264.6L410.4 268.2" stroke="#00F000" stroke-width="2.2" fill="none" stroke-linejoin="round" stroke-linecap="round"/>
<path d="M402.3 259.4L405.0 262.2L407.7 264.1L410.4 268.3" stroke="#FF0000" stroke-width="1.8" fill="none" stroke-linejoin="round" stroke-linecap="round"/>
<path d="M402.3 262.2L405.0 263.4L407.7 265.7L410.4 267.7" stroke="#FF1010" stroke-width="1.6" fill="none" stroke-linejoin="round" stroke-linecap="round"/>
<path d="M402.3 261.6L405.0 264.4L407.7 265.4L410.4 268.2" stroke="#B0109F" stroke-width="1.6" fill="none" stroke-linejoin="round" stroke-linecap="round"/>
<path d="M402.3 260.4L405.0 264.2L407.7 266.3L410.4 267.3" stroke="#008888" stroke-width="1.8" fill="none" stroke-linejoin="round" stroke-linecap="round"/>
<path d="M402.3 262.4L405.0 263.3L407.7 265.6L410.4 269.5" stroke="#C00000" stroke-width="1.8" fill="none" stroke-linejoin="round" stroke-linecap="round"/>
<path d="M402.3 259.5L405.0 263.7L407.7 264.7L410.4 268.2" stroke="#FF60F0" stroke-width="1.5" fill="none" stroke-linejoin="round" stroke-linecap="round"/>
<path d="M402.3 260.8L405.0 263.8L407.7 265.9L410.4 269.2" stroke="#FF00FF" stroke-width="1.5" fill="none" stroke-linejoin="round" stroke-linecap="round"/>
<path d="M402.3 259.4L405.0 262.4L407.7 265.1L410.4 267.8" stroke="#80FFFF" stroke-width="1.8" fill="none" stroke-linejoin="round" stroke-linecap="round"/>
<path d="M410.4 268.2L413.1 268.6L415.8 271.2L418.5 274.1" stroke="#FF60F0" stroke-width="1.5" fill="none" stroke-linejoin="round" stroke-linecap="round"/>
<path d="M410.4 268.9L413.1 268.8L415.8 270.9L418.5 273.8" stroke="#00C8F8" stroke-width="2.0" fill="none" stroke-linejoin="round" stroke-linecap="round"/>
<path d="M410.4 267.7L413.1 269.5L415.8 272.4L418.5 273.6" stroke="#FF1010" stroke-width="1.6" fill="none" stroke-linejoin="round" stroke-linecap="round"/>
<path d="M410.4 268.2L413.1 269.8L415.8 272.4L418.5 272.5" stroke="#00F000" stroke-width="2.2" fill="none" stroke-linejoin="round" stroke-linecap="round"/>
<path d="M410.4 268.2L413.1 270.4L415.8 272.2L418.5 273.8" stroke="#000080" stroke-width="3.0" fill="none" stroke-linejoin="round" stroke-linecap="round"/>
<path d="M410.4 268.2L413.1 269.5L415.8 273.4L418.5 274.5" stroke="#B0109F" stroke-width="1.6" fill="none" stroke-linejoin="round" stroke-linecap="round"/>
<path d="M410.4 267.3L413.1 269.8L415.8 271.4L418.5 273.5" stroke="#008888" stroke-width="1.8" fill="none" stroke-linejoin="round" stroke-linecap="round"/>
<path d="M410.4 269.2L413.1 271.5L415.8 272.9L418.5 274.9" stroke="#FF00FF" stroke-width="1.5" fill="none" stroke-linejoin="round" stroke-linecap="round"/>
<path d="M410.4 267.8L413.1 269.0L415.8 271.7L418.5 274.3" stroke="#80FFFF" stroke-width="1.8" fill="none" stroke-linejoin="round" stroke-linecap="round"/>
<path d="M410.4 268.3L413.1 268.8L415.8 272.0L418.5 273.4" stroke="#FF0000" stroke-width="1.8" fill="none" stroke-linejoin="round" stroke-linecap="round"/>
<path d="M410.4 269.5L413.1 271.4L415.8 273.2L418.5 273.6" stroke="#C00000" stroke-width="1.8" fill="none" stroke-linejoin="round" stroke-linecap="round"/>
<path d="M410.4 268.2L413.1 269.5L415.8 271.8L418.5 275.7" stroke="#00FFFF" stroke-width="2.4" fill="none" stroke-linejoin="round" stroke-linecap="round"/>
<path d="M410.4 269.2L413.1 270.0L415.8 273.0L418.5 273.1" stroke="#0000F0" stroke-width="1.8" fill="none" stroke-linejoin="round" stroke-linecap="round"/>
<path d="M418.5 273.8L421.2 276.9L423.9 280.0L426.6 282.1" stroke="#000080" stroke-width="3.0" fill="none" stroke-linejoin="round" stroke-linecap="round"/>
<path d="M418.5 273.5L421.2 276.7L423.9 278.6L426.6 279.3" stroke="#008888" stroke-width="1.8" fill="none" stroke-linejoin="round" stroke-linecap="round"/>
<path d="M418.5 272.5L421.2 274.8L423.9 278.1L426.6 280.4" stroke="#00F000" stroke-width="2.2" fill="none" stroke-linejoin="round" stroke-linecap="round"/>
<path d="M418.5 274.9L421.2 276.5L423.9 280.1L426.6 282.2" stroke="#FF00FF" stroke-width="1.5" fill="none" stroke-linejoin="round" stroke-linecap="round"/>
<path d="M418.5 273.6L421.2 276.2L423.9 279.8L426.6 281.4" stroke="#FF1010" stroke-width="1.6" fill="none" stroke-linejoin="round" stroke-linecap="round"/>
<path d="M418.5 273.4L421.2 275.6L423.9 276.8L426.6 278.9" stroke="#FF0000" stroke-width="1.8" fill="none" stroke-linejoin="round" stroke-linecap="round"/>
<path d="M418.5 274.1L421.2 276.3L423.9 277.7L426.6 280.5" stroke="#FF60F0" stroke-width="1.5" fill="none" stroke-linejoin="round" stroke-linecap="round"/>
<path d="M418.5 275.7L421.2 277.1L423.9 278.4L426.6 280.2" stroke="#00FFFF" stroke-width="2.4" fill="none" stroke-linejoin="round" stroke-linecap="round"/>
<path d="M418.5 274.3L421.2 275.7L423.9 278.6L426.6 279.0" stroke="#80FFFF" stroke-width="1.8" fill="none" stroke-linejoin="round" stroke-linecap="round"/>
<path d="M418.5 273.6L421.2 276.7L423.9 279.3L426.6 281.6" stroke="#C00000" stroke-width="1.8" fill="none" stroke-linejoin="round" stroke-linecap="round"/>
<path d="M418.5 273.8L421.2 276.3L423.9 277.2L426.6 280.5" stroke="#00C8F8" stroke-width="2.0" fill="none" stroke-linejoin="round" stroke-linecap="round"/>
<path d="M418.5 274.5L421.2 277.0L423.9 278.6L426.6 281.7" stroke="#B0109F" stroke-width="1.6" fill="none" stroke-linejoin="round" stroke-linecap="round"/>
<path d="M418.5 273.1L421.2 276.9L423.9 277.0L426.6 281.4" stroke="#0000F0" stroke-width="1.8" fill="none" stroke-linejoin="round" stroke-linecap="round"/>
<path d="M426.6 280.4L429.3 280.4L432.0 281.9L434.7 284.5" stroke="#00F000" stroke-width="2.2" fill="none" stroke-linejoin="round" stroke-linecap="round"/>
<path d="M426.6 279.0L429.3 280.6L432.0 284.1L434.7 284.2" stroke="#80FFFF" stroke-width="1.8" fill="none" stroke-linejoin="round" stroke-linecap="round"/>
<path d="M426.6 279.3L429.3 283.1L432.0 283.5L434.7 285.9" stroke="#008888" stroke-width="1.8" fill="none" stroke-linejoin="round" stroke-linecap="round"/>
<path d="M426.6 281.4L429.3 282.6L432.0 283.2L434.7 284.6" stroke="#FF1010" stroke-width="1.6" fill="none" stroke-linejoin="round" stroke-linecap="round"/>
<path d="M426.6 280.5L429.3 281.7L432.0 282.9L434.7 284.8" stroke="#00C8F8" stroke-width="2.0" fill="none" stroke-linejoin="round" stroke-linecap="round"/>
<path d="M426.6 281.7L429.3 282.7L432.0 283.8L434.7 285.8" stroke="#B0109F" stroke-width="1.6" fill="none" stroke-linejoin="round" stroke-linecap="round"/>
<path d="M426.6 280.2L429.3 281.5L432.0 283.3L434.7 286.1" stroke="#00FFFF" stroke-width="2.4" fill="none" stroke-linejoin="round" stroke-linecap="round"/>
<path d="M426.6 281.4L429.3 282.2L432.0 283.1L434.7 285.7" stroke="#0000F0" stroke-width="1.8" fill="none" stroke-linejoin="round" stroke-linecap="round"/>
<path d="M426.6 281.6L429.3 282.2L432.0 284.4L434.7 284.4" stroke="#C00000" stroke-width="1.8" fill="none" stroke-linejoin="round" stroke-linecap="round"/>
<path d="M426.6 278.9L429.3 282.5L432.0 283.0L434.7 284.7" stroke="#FF0000" stroke-width="1.8" fill="none" stroke-linejoin="round" stroke-linecap="round"/>
<path d="M426.6 282.2L429.3 283.3L432.0 285.0L434.7 285.4" stroke="#FF00FF" stroke-width="1.5" fill="none" stroke-linejoin="round" stroke-linecap="round"/>
<path d="M426.6 282.1L429.3 283.0L432.0 284.2L434.7 286.5" stroke="#000080" stroke-width="3.0" fill="none" stroke-linejoin="round" stroke-linecap="round"/>
<path d="M426.6 280.5L429.3 281.9L432.0 283.9L434.7 284.1" stroke="#FF60F0" stroke-width="1.5" fill="none" stroke-linejoin="round" stroke-linecap="round"/>
<path d="M434.7 284.1L437.4 286.6L440.1 287.8L442.8 288.5" stroke="#FF60F0" stroke-width="1.5" fill="none" stroke-linejoin="round" stroke-linecap="round"/>
<path d="M434.7 286.5L437.4 287.2L440.1 288.6L442.8 290.3" stroke="#000080" stroke-width="3.0" fill="none" stroke-linejoin="round" stroke-linecap="round"/>
<path d="M434.7 284.7L437.4 285.0L440.1 288.1L442.8 289.0" stroke="#FF0000" stroke-width="1.8" fill="none" stroke-linejoin="round" stroke-linecap="round"/>
<path d="M434.7 285.9L437.4 286.4L440.1 287.2L442.8 289.8" stroke="#008888" stroke-width="1.8" fill="none" stroke-linejoin="round" stroke-linecap="round"/>
<path d="M434.7 286.1L437.4 286.6L440.1 288.3L442.8 289.0" stroke="#00FFFF" stroke-width="2.4" fill="none" stroke-linejoin="round" stroke-linecap="round"/>
<path d="M434.7 284.8L437.4 286.5L440.1 288.3L442.8 289.2" stroke="#00C8F8" stroke-width="2.0" fill="none" stroke-linejoin="round" stroke-linecap="round"/>
<path d="M434.7 284.5L437.4 284.7L440.1 287.9L442.8 287.6" stroke="#00F000" stroke-width="2.2" fill="none" stroke-linejoin="round" stroke-linecap="round"/>
<path d="M434.7 284.4L437.4 285.8L440.1 288.4L442.8 288.8" stroke="#C00000" stroke-width="1.8" fill="none" stroke-linejoin="round" stroke-linecap="round"/>
<path d="M434.7 284.2L437.4 285.9L440.1 286.7L442.8 289.3" stroke="#80FFFF" stroke-width="1.8" fill="none" stroke-linejoin="round" stroke-linecap="round"/>
<path d="M434.7 285.4L437.4 287.2L440.1 288.2L442.8 290.7" stroke="#FF00FF" stroke-width="1.5" fill="none" stroke-linejoin="round" stroke-linecap="round"/>
<path d="M434.7 285.7L437.4 285.7L440.1 287.0L442.8 290.0" stroke="#0000F0" stroke-width="1.8" fill="none" stroke-linejoin="round" stroke-linecap="round"/>
<path d="M434.7 284.6L437.4 287.9L440.1 288.2L442.8 289.9" stroke="#FF1010" stroke-width="1.6" fill="none" stroke-linejoin="round" stroke-linecap="round"/>
<path d="M434.7 285.8L437.4 286.9L440.1 288.0L442.8 288.6" stroke="#B0109F" stroke-width="1.6" fill="none" stroke-linejoin="round" stroke-linecap="round"/>
<path d="M442.8 290.0L445.5 290.8L448.2 292.3L450.9 292.2" stroke="#0000F0" stroke-width="1.8" fill="none" stroke-linejoin="round" stroke-linecap="round"/>
<path d="M442.8 288.8L445.5 290.9L448.2 292.7L450.9 292.8" stroke="#C00000" stroke-width="1.8" fill="none" stroke-linejoin="round" stroke-linecap="round"/>
<path d="M442.8 289.2L445.5 290.1L448.2 292.3L450.9 292.1" stroke="#00C8F8" stroke-width="2.0" fill="none" stroke-linejoin="round" stroke-linecap="round"/>
<path d="M442.8 288.6L445.5 291.9L448.2 291.5L450.9 293.4" stroke="#B0109F" stroke-width="1.6" fill="none" stroke-linejoin="round" stroke-linecap="round"/>
<path d="M442.8 289.8L445.5 291.1L448.2 292.4L450.9 292.5" stroke="#008888" stroke-width="1.8" fill="none" stroke-linejoin="round" stroke-linecap="round"/>
<path d="M442.8 289.3L445.5 289.5L448.2 290.8L450.9 292.0" stroke="#80FFFF" stroke-width="1.8" fill="none" stroke-linejoin="round" stroke-linecap="round"/>
<path d="M442.8 288.5L445.5 290.5L448.2 291.0L450.9 293.7" stroke="#FF60F0" stroke-width="1.5" fill="none" stroke-linejoin="round" stroke-linecap="round"/>
<path d="M442.8 290.7L445.5 291.5L448.2 293.5L450.9 294.1" stroke="#FF00FF" stroke-width="1.5" fill="none" stroke-linejoin="round" stroke-linecap="round"/>
<path d="M442.8 290.3L445.5 290.6L448.2 293.5L450.9 293.3" stroke="#000080" stroke-width="3.0" fill="none" stroke-linejoin="round" stroke-linecap="round"/>
<path d="M442.8 287.6L445.5 289.7L448.2 291.0L450.9 293.1" stroke="#00F000" stroke-width="2.2" fill="none" stroke-linejoin="round" stroke-linecap="round"/>
<path d="M442.8 289.0L445.5 290.6L448.2 290.8L450.9 292.8" stroke="#FF0000" stroke-width="1.8" fill="none" stroke-linejoin="round" stroke-linecap="round"/>
<path d="M442.8 289.0L445.5 291.6L448.2 291.8L450.9 293.2" stroke="#00FFFF" stroke-width="2.4" fill="none" stroke-linejoin="round" stroke-linecap="round"/>
<path d="M442.8 289.9L445.5 291.6L448.2 292.8L450.9 294.3" stroke="#FF1010" stroke-width="1.6" fill="none" stroke-linejoin="round" stroke-linecap="round"/>
<path d="M450.9 293.1L453.6 292.7L456.3 293.9L459.0 295.3" stroke="#00F000" stroke-width="2.2" fill="none" stroke-linejoin="round" stroke-linecap="round"/>
<path d="M450.9 293.3L453.6 294.6L456.3 295.5L459.0 295.9" stroke="#000080" stroke-width="3.0" fill="none" stroke-linejoin="round" stroke-linecap="round"/>
<path d="M450.9 294.1L453.6 293.6L456.3 294.2L459.0 295.8" stroke="#FF00FF" stroke-width="1.5" fill="none" stroke-linejoin="round" stroke-linecap="round"/>
<path d="M450.9 292.1L453.6 294.4L456.3 293.9L459.0 295.7" stroke="#00C8F8" stroke-width="2.0" fill="none" stroke-linejoin="round" stroke-linecap="round"/>
<path d="M450.9 292.5L453.6 293.5L456.3 294.6L459.0 294.9" stroke="#008888" stroke-width="1.8" fill="none" stroke-linejoin="round" stroke-linecap="round"/>
<path d="M450.9 293.4L453.6 294.7L456.3 293.7L459.0 295.0" stroke="#B0109F" stroke-width="1.6" fill="none" stroke-linejoin="round" stroke-linecap="round"/>
<path d="M450.9 292.0L453.6 293.8L456.3 294.6L459.0 294.8" stroke="#80FFFF" stroke-width="1.8" fill="none" stroke-linejoin="round" stroke-linecap="round"/>
<path d="M450.9 292.8L453.6 294.5L456.3 293.4L459.0 294.6" stroke="#C00000" stroke-width="1.8" fill="none" stroke-linejoin="round" stroke-linecap="round"/>
<path d="M450.9 293.7L453.6 294.1L456.3 293.4L459.0 294.8" stroke="#FF60F0" stroke-width="1.5" fill="none" stroke-linejoin="round" stroke-linecap="round"/>
<path d="M450.9 294.3L453.6 294.4L456.3 294.4L459.0 295.4" stroke="#FF1010" stroke-width="1.6" fill="none" stroke-linejoin="round" stroke-linecap="round"/>
<path d="M450.9 292.2L453.6 294.6L456.3 294.8L459.0 294.0" stroke="#0000F0" stroke-width="1.8" fill="none" stroke-linejoin="round" stroke-linecap="round"/>
<path d="M450.9 293.2L453.6 293.3L456.3 293.4L459.0 294.8" stroke="#00FFFF" stroke-width="2.4" fill="none" stroke-linejoin="round" stroke-linecap="round"/>
<path d="M450.9 292.8L453.6 292.9L456.3 293.0L459.0 293.9" stroke="#FF0000" stroke-width="1.8" fill="none" stroke-linejoin="round" stroke-linecap="round"/>
<path d="M459.0 295.7L461.7 295.1L464.4 297.2L467.1 297.2" stroke="#00C8F8" stroke-width="2.0" fill="none" stroke-linejoin="round" stroke-linecap="round"/>
<path d="M459.0 295.4L461.7 297.6L464.4 298.5L467.1 298.0" stroke="#FF1010" stroke-width="1.6" fill="none" stroke-linejoin="round" stroke-linecap="round"/>
<path d="M459.0 295.0L461.7 295.9L464.4 296.6L467.1 298.3" stroke="#B0109F" stroke-width="1.6" fill="none" stroke-linejoin="round" stroke-linecap="round"/>
<path d="M459.0 295.9L461.7 296.7L464.4 298.2L467.1 299.2" stroke="#000080" stroke-width="3.0" fill="none" stroke-linejoin="round" stroke-linecap="round"/>
<path d="M459.0 294.8L461.7 295.8L464.4 296.9L467.1 298.2" stroke="#80FFFF" stroke-width="1.8" fill="none" stroke-linejoin="round" stroke-linecap="round"/>
<path d="M459.0 294.0L461.7 297.2L464.4 297.2L467.1 297.4" stroke="#0000F0" stroke-width="1.8" fill="none" stroke-linejoin="round" stroke-linecap="round"/>
<path d="M459.0 294.6L461.7 297.2L464.4 296.3L467.1 298.7" stroke="#C00000" stroke-width="1.8" fill="none" stroke-linejoin="round" stroke-linecap="round"/>
<path d="M459.0 294.8L461.7 296.9L464.4 298.0L467.1 297.5" stroke="#00FFFF" stroke-width="2.4" fill="none" stroke-linejoin="round" stroke-linecap="round"/>
<path d="M459.0 294.9L461.7 295.4L464.4 297.0L467.1 297.7" stroke="#008888" stroke-width="1.8" fill="none" stroke-linejoin="round" stroke-linecap="round"/>
<path d="M459.0 295.3L461.7 295.2L464.4 295.6L467.1 297.1" stroke="#00F000" stroke-width="2.2" fill="none" stroke-linejoin="round" stroke-linecap="round"/>
<path d="M459.0 295.8L461.7 297.7L464.4 298.0L467.1 298.1" stroke="#FF00FF" stroke-width="1.5" fill="none" stroke-linejoin="round" stroke-linecap="round"/>
<path d="M459.0 293.9L461.7 295.0L464.4 296.2L467.1 297.4" stroke="#FF0000" stroke-width="1.8" fill="none" stroke-linejoin="round" stroke-linecap="round"/>
<path d="M459.0 294.8L461.7 296.7L464.4 295.7L467.1 297.9" stroke="#FF60F0" stroke-width="1.5" fill="none" stroke-linejoin="round" stroke-linecap="round"/>
<path d="M467.1 298.3L469.8 298.2L472.5 298.7L475.2 301.1" stroke="#B0109F" stroke-width="1.6" fill="none" stroke-linejoin="round" stroke-linecap="round"/>
<path d="M467.1 298.7L469.8 298.7L472.5 299.9L475.2 299.6" stroke="#C00000" stroke-width="1.8" fill="none" stroke-linejoin="round" stroke-linecap="round"/>
<path d="M467.1 297.5L469.8 298.2L472.5 298.9L475.2 300.5" stroke="#00FFFF" stroke-width="2.4" fill="none" stroke-linejoin="round" stroke-linecap="round"/>
<path d="M467.1 297.9L469.8 298.9L472.5 299.6L475.2 299.2" stroke="#FF60F0" stroke-width="1.5" fill="none" stroke-linejoin="round" stroke-linecap="round"/>
<path d="M467.1 297.1L469.8 297.6L472.5 297.9L475.2 298.7" stroke="#00F000" stroke-width="2.2" fill="none" stroke-linejoin="round" stroke-linecap="round"/>
<path d="M467.1 299.2L469.8 299.4L472.5 299.1L475.2 301.5" stroke="#000080" stroke-width="3.0" fill="none" stroke-linejoin="round" stroke-linecap="round"/>
<path d="M467.1 297.4L469.8 298.4L472.5 298.4L475.2 299.7" stroke="#0000F0" stroke-width="1.8" fill="none" stroke-linejoin="round" stroke-linecap="round"/>
<path d="M467.1 298.2L469.8 297.3L472.5 299.4L475.2 298.9" stroke="#80FFFF" stroke-width="1.8" fill="none" stroke-linejoin="round" stroke-linecap="round"/>
<path d="M467.1 298.1L469.8 299.3L472.5 300.1L475.2 301.5" stroke="#FF00FF" stroke-width="1.5" fill="none" stroke-linejoin="round" stroke-linecap="round"/>
<path d="M467.1 297.4L469.8 298.2L472.5 298.2L475.2 299.6" stroke="#FF0000" stroke-width="1.8" fill="none" stroke-linejoin="round" stroke-linecap="round"/>
<path d="M467.1 298.0L469.8 298.3L472.5 300.5L475.2 300.1" stroke="#FF1010" stroke-width="1.6" fill="none" stroke-linejoin="round" stroke-linecap="round"/>
<path d="M467.1 297.7L469.8 297.8L472.5 298.3L475.2 300.7" stroke="#008888" stroke-width="1.8" fill="none" stroke-linejoin="round" stroke-linecap="round"/>
<path d="M467.1 297.2L469.8 298.2L472.5 299.4L475.2 300.3" stroke="#00C8F8" stroke-width="2.0" fill="none" stroke-linejoin="round" stroke-linecap="round"/>
<path d="M475.2 300.7L477.9 301.7L480.6 300.9L483.3 302.6" stroke="#008888" stroke-width="1.8" fill="none" stroke-linejoin="round" stroke-linecap="round"/>
<path d="M475.2 300.3L477.9 300.7L480.6 301.4L483.3 301.5" stroke="#00C8F8" stroke-width="2.0" fill="none" stroke-linejoin="round" stroke-linecap="round"/>
<path d="M475.2 299.7L477.9 300.1L480.6 302.4L483.3 302.1" stroke="#0000F0" stroke-width="1.8" fill="none" stroke-linejoin="round" stroke-linecap="round"/>
<path d="M475.2 301.5L477.9 300.6L480.6 302.7L483.3 303.8" stroke="#000080" stroke-width="3.0" fill="none" stroke-linejoin="round" stroke-linecap="round"/>
<path d="M475.2 300.1L477.9 301.7L480.6 301.6L483.3 302.9" stroke="#FF1010" stroke-width="1.6" fill="none" stroke-linejoin="round" stroke-linecap="round"/>
<path d="M475.2 301.5L477.9 301.6L480.6 301.2L483.3 303.8" stroke="#FF00FF" stroke-width="1.5" fill="none" stroke-linejoin="round" stroke-linecap="round"/>
<path d="M475.2 299.2L477.9 300.5L480.6 300.8L483.3 302.8" stroke="#FF60F0" stroke-width="1.5" fill="none" stroke-linejoin="round" stroke-linecap="round"/>
<path d="M475.2 299.6L477.9 300.3L480.6 301.2L483.3 302.5" stroke="#C00000" stroke-width="1.8" fill="none" stroke-linejoin="round" stroke-linecap="round"/>
<path d="M475.2 298.7L477.9 300.9L480.6 300.1L483.3 301.1" stroke="#00F000" stroke-width="2.2" fill="none" stroke-linejoin="round" stroke-linecap="round"/>
<path d="M475.2 301.1L477.9 300.7L480.6 301.9L483.3 302.8" stroke="#B0109F" stroke-width="1.6" fill="none" stroke-linejoin="round" stroke-linecap="round"/>
<path d="M475.2 300.5L477.9 302.1L480.6 302.0L483.3 301.7" stroke="#00FFFF" stroke-width="2.4" fill="none" stroke-linejoin="round" stroke-linecap="round"/>
<path d="M475.2 299.6L477.9 300.9L480.6 301.5L483.3 301.8" stroke="#FF0000" stroke-width="1.8" fill="none" stroke-linejoin="round" stroke-linecap="round"/>
<path d="M475.2 298.9L477.9 299.6L480.6 301.6L483.3 301.1" stroke="#80FFFF" stroke-width="1.8" fill="none" stroke-linejoin="round" stroke-linecap="round"/>
<path d="M483.3 302.8L486.0 303.5L488.7 303.6L491.4 304.7" stroke="#B0109F" stroke-width="1.6" fill="none" stroke-linejoin="round" stroke-linecap="round"/>
<path d="M483.3 302.6L486.0 302.6L488.7 303.2L491.4 304.1" stroke="#008888" stroke-width="1.8" fill="none" stroke-linejoin="round" stroke-linecap="round"/>
<path d="M483.3 301.8L486.0 301.8L488.7 302.5L491.4 304.1" stroke="#FF0000" stroke-width="1.8" fill="none" stroke-linejoin="round" stroke-linecap="round"/>
<path d="M483.3 301.7L486.0 303.8L488.7 303.5L491.4 303.8" stroke="#00FFFF" stroke-width="2.4" fill="none" stroke-linejoin="round" stroke-linecap="round"/>
<path d="M483.3 302.8L486.0 303.3L488.7 303.0L491.4 303.7" stroke="#FF60F0" stroke-width="1.5" fill="none" stroke-linejoin="round" stroke-linecap="round"/>
<path d="M483.3 302.1L486.0 303.7L488.7 303.8L491.4 304.8" stroke="#0000F0" stroke-width="1.8" fill="none" stroke-linejoin="round" stroke-linecap="round"/>
<path d="M483.3 303.8L486.0 302.8L488.7 303.9L491.4 305.8" stroke="#FF00FF" stroke-width="1.5" fill="none" stroke-linejoin="round" stroke-linecap="round"/>
<path d="M483.3 303.8L486.0 303.0L488.7 304.4L491.4 305.4" stroke="#000080" stroke-width="3.0" fill="none" stroke-linejoin="round" stroke-linecap="round"/>
<path d="M483.3 302.9L486.0 303.1L488.7 303.2L491.4 303.8" stroke="#FF1010" stroke-width="1.6" fill="none" stroke-linejoin="round" stroke-linecap="round"/>
<path d="M483.3 302.5L486.0 303.1L488.7 304.5L491.4 304.3" stroke="#C00000" stroke-width="1.8" fill="none" stroke-linejoin="round" stroke-linecap="round"/>
<path d="M483.3 301.1L486.0 302.3L488.7 303.3L491.4 304.7" stroke="#00F000" stroke-width="2.2" fill="none" stroke-linejoin="round" stroke-linecap="round"/>
<path d="M483.3 301.5L486.0 303.7L488.7 303.3L491.4 303.5" stroke="#00C8F8" stroke-width="2.0" fill="none" stroke-linejoin="round" stroke-linecap="round"/>
<path d="M483.3 301.1L486.0 302.4L488.7 303.0L491.4 304.3" stroke="#80FFFF" stroke-width="1.8" fill="none" stroke-linejoin="round" stroke-linecap="round"/>
<path d="M491.4 304.8L494.1 304.8L496.8 305.7L499.5 305.8" stroke="#0000F0" stroke-width="1.8" fill="none" stroke-linejoin="round" stroke-linecap="round"/>
<path d="M491.4 304.7L494.1 305.9L496.8 306.0L499.5 306.2" stroke="#B0109F" stroke-width="1.6" fill="none" stroke-linejoin="round" stroke-linecap="round"/>
<path d="M491.4 304.3L494.1 304.8L496.8 305.9L499.5 307.1" stroke="#C00000" stroke-width="1.8" fill="none" stroke-linejoin="round" stroke-linecap="round"/>
<path d="M491.4 305.4L494.1 305.0L496.8 305.8L499.5 306.1" stroke="#000080" stroke-width="3.0" fill="none" stroke-linejoin="round" stroke-linecap="round"/>
<path d="M491.4 303.7L494.1 303.8L496.8 305.3L499.5 306.5" stroke="#FF60F0" stroke-width="1.5" fill="none" stroke-linejoin="round" stroke-linecap="round"/>
<path d="M491.4 304.1L494.1 305.5L496.8 305.6L499.5 306.2" stroke="#FF0000" stroke-width="1.8" fill="none" stroke-linejoin="round" stroke-linecap="round"/>
<path d="M491.4 303.5L494.1 303.9L496.8 304.8L499.5 305.4" stroke="#00C8F8" stroke-width="2.0" fill="none" stroke-linejoin="round" stroke-linecap="round"/>
<path d="M491.4 305.8L494.1 305.9L496.8 306.6L499.5 306.8" stroke="#FF00FF" stroke-width="1.5" fill="none" stroke-linejoin="round" stroke-linecap="round"/>
<path d="M491.4 303.8L494.1 305.9L496.8 305.2L499.5 306.0" stroke="#00FFFF" stroke-width="2.4" fill="none" stroke-linejoin="round" stroke-linecap="round"/>
<path d="M491.4 304.1L494.1 305.3L496.8 306.4L499.5 305.7" stroke="#008888" stroke-width="1.8" fill="none" stroke-linejoin="round" stroke-linecap="round"/>
<path d="M491.4 304.3L494.1 304.6L496.8 305.8L499.5 306.0" stroke="#80FFFF" stroke-width="1.8" fill="none" stroke-linejoin="round" stroke-linecap="round"/>
<path d="M491.4 304.7L494.1 303.6L496.8 304.6L499.5 305.8" stroke="#00F000" stroke-width="2.2" fill="none" stroke-linejoin="round" stroke-linecap="round"/>
<path d="M491.4 303.8L494.1 305.0L496.8 306.0L499.5 306.7" stroke="#FF1010" stroke-width="1.6" fill="none" stroke-linejoin="round" stroke-linecap="round"/>
<path d="M499.5 305.7L502.2 307.4L504.9 308.0L507.6 309.2" stroke="#008888" stroke-width="1.8" fill="none" stroke-linejoin="round" stroke-linecap="round"/>
<path d="M499.5 306.7L502.2 307.3L504.9 308.1L507.6 308.1" stroke="#FF1010" stroke-width="1.6" fill="none" stroke-linejoin="round" stroke-linecap="round"/>
<path d="M499.5 306.0L502.2 306.7L504.9 307.4L507.6 308.0" stroke="#80FFFF" stroke-width="1.8" fill="none" stroke-linejoin="round" stroke-linecap="round"/>
<path d="M499.5 305.8L502.2 306.6L504.9 307.6L507.6 307.1" stroke="#00F000" stroke-width="2.2" fill="none" stroke-linejoin="round" stroke-linecap="round"/>
<path d="M499.5 306.1L502.2 307.0L504.9 307.6L507.6 308.6" stroke="#000080" stroke-width="3.0" fill="none" stroke-linejoin="round" stroke-linecap="round"/>
<path d="M499.5 306.2L502.2 306.7L504.9 307.6L507.6 308.6" stroke="#B0109F" stroke-width="1.6" fill="none" stroke-linejoin="round" stroke-linecap="round"/>
<path d="M499.5 307.1L502.2 307.2L504.9 308.1L507.6 309.4" stroke="#C00000" stroke-width="1.8" fill="none" stroke-linejoin="round" stroke-linecap="round"/>
<path d="M499.5 306.0L502.2 308.2L504.9 308.7L507.6 308.4" stroke="#00FFFF" stroke-width="2.4" fill="none" stroke-linejoin="round" stroke-linecap="round"/>
<path d="M499.5 306.2L502.2 305.6L504.9 307.3L507.6 308.4" stroke="#FF0000" stroke-width="1.8" fill="none" stroke-linejoin="round" stroke-linecap="round"/>
<path d="M499.5 306.5L502.2 307.2L504.9 306.8L507.6 308.5" stroke="#FF60F0" stroke-width="1.5" fill="none" stroke-linejoin="round" stroke-linecap="round"/>
<path d="M499.5 305.4L502.2 307.2L504.9 308.1L507.6 308.2" stroke="#00C8F8" stroke-width="2.0" fill="none" stroke-linejoin="round" stroke-linecap="round"/>
<path d="M499.5 305.8L502.2 306.2L504.9 308.1L507.6 307.5" stroke="#0000F0" stroke-width="1.8" fill="none" stroke-linejoin="round" stroke-linecap="round"/>
<path d="M499.5 306.8L502.2 307.4L504.9 307.8L507.6 309.4" stroke="#FF00FF" stroke-width="1.5" fill="none" stroke-linejoin="round" stroke-linecap="round"/>
<path d="M507.6 308.6L510.3 310.0L513.0 310.1L515.7 311.1" stroke="#B0109F" stroke-width="1.6" fill="none" stroke-linejoin="round" stroke-linecap="round"/>
<path d="M507.6 307.1L510.3 307.7L513.0 310.1L515.7 309.0" stroke="#00F000" stroke-width="2.2" fill="none" stroke-linejoin="round" stroke-linecap="round"/>
<path d="M507.6 308.0L510.3 307.8L513.0 309.3L515.7 310.5" stroke="#80FFFF" stroke-width="1.8" fill="none" stroke-linejoin="round" stroke-linecap="round"/>
<path d="M507.6 308.2L510.3 308.6L513.0 309.4L515.7 311.0" stroke="#00C8F8" stroke-width="2.0" fill="none" stroke-linejoin="round" stroke-linecap="round"/>
<path d="M507.6 308.5L510.3 308.8L513.0 308.6L515.7 310.1" stroke="#FF60F0" stroke-width="1.5" fill="none" stroke-linejoin="round" stroke-linecap="round"/>
<path d="M507.6 308.4L510.3 309.2L513.0 309.5L515.7 310.9" stroke="#00FFFF" stroke-width="2.4" fill="none" stroke-linejoin="round" stroke-linecap="round"/>
<path d="M507.6 308.1L510.3 309.8L513.0 310.7L515.7 310.7" stroke="#FF1010" stroke-width="1.6" fill="none" stroke-linejoin="round" stroke-linecap="round"/>
<path d="M507.6 309.4L510.3 309.3L513.0 309.5L515.7 310.3" stroke="#FF00FF" stroke-width="1.5" fill="none" stroke-linejoin="round" stroke-linecap="round"/>
<path d="M507.6 308.6L510.3 310.1L513.0 310.7L515.7 311.5" stroke="#000080" stroke-width="3.0" fill="none" stroke-linejoin="round" stroke-linecap="round"/>
<path d="M507.6 309.4L510.3 308.7L513.0 310.2L515.7 310.6" stroke="#C00000" stroke-width="1.8" fill="none" stroke-linejoin="round" stroke-linecap="round"/>
<path d="M507.6 308.4L510.3 308.3L513.0 310.0L515.7 309.6" stroke="#FF0000" stroke-width="1.8" fill="none" stroke-linejoin="round" stroke-linecap="round"/>
<path d="M507.6 307.5L510.3 308.9L513.0 309.0L515.7 310.9" stroke="#0000F0" stroke-width="1.8" fill="none" stroke-linejoin="round" stroke-linecap="round"/>
<path d="M507.6 309.2L510.3 309.9L513.0 309.9L515.7 310.4" stroke="#008888" stroke-width="1.8" fill="none" stroke-linejoin="round" stroke-linecap="round"/>
<path d="M515.7 310.6L518.4 311.1L521.1 312.0L523.8 311.5" stroke="#C00000" stroke-width="1.8" fill="none" stroke-linejoin="round" stroke-linecap="round"/>
<path d="M515.7 310.7L518.4 311.4L521.1 311.3L523.8 311.4" stroke="#FF1010" stroke-width="1.6" fill="none" stroke-linejoin="round" stroke-linecap="round"/>
<path d="M515.7 310.3L518.4 310.9L521.1 312.9L523.8 311.9" stroke="#FF00FF" stroke-width="1.5" fill="none" stroke-linejoin="round" stroke-linecap="round"/>
<path d="M515.7 309.6L518.4 311.6L521.1 310.7L523.8 310.9" stroke="#FF0000" stroke-width="1.8" fill="none" stroke-linejoin="round" stroke-linecap="round"/>
<path d="M515.7 310.5L518.4 310.1L521.1 311.6L523.8 312.4" stroke="#80FFFF" stroke-width="1.8" fill="none" stroke-linejoin="round" stroke-linecap="round"/>
<path d="M515.7 311.1L518.4 311.5L521.1 311.5L523.8 313.0" stroke="#B0109F" stroke-width="1.6" fill="none" stroke-linejoin="round" stroke-linecap="round"/>
<path d="M515.7 309.0L518.4 310.4L521.1 311.9L523.8 311.1" stroke="#00F000" stroke-width="2.2" fill="none" stroke-linejoin="round" stroke-linecap="round"/>
<path d="M515.7 310.4L518.4 311.9L521.1 311.8L523.8 312.4" stroke="#008888" stroke-width="1.8" fill="none" stroke-linejoin="round" stroke-linecap="round"/>
<path d="M515.7 310.9L518.4 311.2L521.1 311.2L523.8 311.7" stroke="#00FFFF" stroke-width="2.4" fill="none" stroke-linejoin="round" stroke-linecap="round"/>
<path d="M515.7 311.5L518.4 312.0L521.1 312.7L523.8 311.8" stroke="#000080" stroke-width="3.0" fill="none" stroke-linejoin="round" stroke-linecap="round"/>
<path d="M515.7 310.9L518.4 311.4L521.1 312.3L523.8 312.0" stroke="#0000F0" stroke-width="1.8" fill="none" stroke-linejoin="round" stroke-linecap="round"/>
<path d="M515.7 310.1L518.4 310.4L521.1 311.8L523.8 311.8" stroke="#FF60F0" stroke-width="1.5" fill="none" stroke-linejoin="round" stroke-linecap="round"/>
<path d="M515.7 311.0L518.4 311.8L521.1 310.8L523.8 312.6" stroke="#00C8F8" stroke-width="2.0" fill="none" stroke-linejoin="round" stroke-linecap="round"/>
<path d="M523.8 312.0L526.5 313.0L529.2 312.9L531.9 312.1" stroke="#0000F0" stroke-width="1.8" fill="none" stroke-linejoin="round" stroke-linecap="round"/>
<path d="M523.8 311.8L526.5 311.1L529.2 312.0L531.9 312.1" stroke="#FF60F0" stroke-width="1.5" fill="none" stroke-linejoin="round" stroke-linecap="round"/>
<path d="M523.8 312.6L526.5 311.4L529.2 311.9L531.9 312.0" stroke="#00C8F8" stroke-width="2.0" fill="none" stroke-linejoin="round" stroke-linecap="round"/>
<path d="M523.8 311.8L526.5 312.9L529.2 312.1L531.9 313.3" stroke="#000080" stroke-width="3.0" fill="none" stroke-linejoin="round" stroke-linecap="round"/>
<path d="M523.8 311.4L526.5 312.1L529.2 312.7L531.9 312.4" stroke="#FF1010" stroke-width="1.6" fill="none" stroke-linejoin="round" stroke-linecap="round"/>
<path d="M523.8 312.4L526.5 312.4L529.2 312.6L531.9 312.1" stroke="#80FFFF" stroke-width="1.8" fill="none" stroke-linejoin="round" stroke-linecap="round"/>
<path d="M523.8 310.9L526.5 311.9L529.2 311.5L531.9 313.0" stroke="#FF0000" stroke-width="1.8" fill="none" stroke-linejoin="round" stroke-linecap="round"/>
<path d="M523.8 311.1L526.5 312.3L529.2 312.2L531.9 312.3" stroke="#00F000" stroke-width="2.2" fill="none" stroke-linejoin="round" stroke-linecap="round"/>
<path d="M523.8 311.9L526.5 312.1L529.2 313.2L531.9 312.8" stroke="#FF00FF" stroke-width="1.5" fill="none" stroke-linejoin="round" stroke-linecap="round"/>
<path d="M523.8 311.5L526.5 312.7L529.2 313.5L531.9 313.7" stroke="#C00000" stroke-width="1.8" fill="none" stroke-linejoin="round" stroke-linecap="round"/>
<path d="M523.8 311.7L526.5 313.1L529.2 312.2L531.9 312.4" stroke="#00FFFF" stroke-width="2.4" fill="none" stroke-linejoin="round" stroke-linecap="round"/>
<path d="M523.8 313.0L526.5 311.6L529.2 312.5L531.9 312.6" stroke="#B0109F" stroke-width="1.6" fill="none" stroke-linejoin="round" stroke-linecap="round"/>
<path d="M523.8 312.4L526.5 313.1L529.2 312.3L531.9 312.3" stroke="#008888" stroke-width="1.8" fill="none" stroke-linejoin="round" stroke-linecap="round"/>
<path d="M531.9 312.1L534.6 312.7L537.3 314.0L540.0 313.2" stroke="#0000F0" stroke-width="1.8" fill="none" stroke-linejoin="round" stroke-linecap="round"/>
<path d="M531.9 313.0L534.6 312.0L537.3 312.4L540.0 312.4" stroke="#FF0000" stroke-width="1.8" fill="none" stroke-linejoin="round" stroke-linecap="round"/>
<path d="M531.9 312.4L534.6 313.2L537.3 313.7L540.0 314.1" stroke="#FF1010" stroke-width="1.6" fill="none" stroke-linejoin="round" stroke-linecap="round"/>
<path d="M531.9 312.0L534.6 312.4L537.3 313.5L540.0 313.5" stroke="#00C8F8" stroke-width="2.0" fill="none" stroke-linejoin="round" stroke-linecap="round"/>
<path d="M531.9 312.3L534.6 312.1L537.3 313.4L540.0 312.2" stroke="#00F000" stroke-width="2.2" fill="none" stroke-linejoin="round" stroke-linecap="round"/>
<path d="M531.9 312.1L534.6 313.1L537.3 312.7L540.0 314.2" stroke="#FF60F0" stroke-width="1.5" fill="none" stroke-linejoin="round" stroke-linecap="round"/>
<path d="M531.9 312.4L534.6 312.6L537.3 314.1L540.0 314.6" stroke="#00FFFF" stroke-width="2.4" fill="none" stroke-linejoin="round" stroke-linecap="round"/>
<path d="M531.9 313.7L534.6 312.7L537.3 313.3L540.0 314.7" stroke="#C00000" stroke-width="1.8" fill="none" stroke-linejoin="round" stroke-linecap="round"/>
<path d="M531.9 312.1L534.6 313.7L537.3 312.1L540.0 312.7" stroke="#80FFFF" stroke-width="1.8" fill="none" stroke-linejoin="round" stroke-linecap="round"/>
<path d="M531.9 312.8L534.6 314.1L537.3 314.2L540.0 314.3" stroke="#FF00FF" stroke-width="1.5" fill="none" stroke-linejoin="round" stroke-linecap="round"/>
<path d="M531.9 312.3L534.6 312.1L537.3 313.9L540.0 313.8" stroke="#008888" stroke-width="1.8" fill="none" stroke-linejoin="round" stroke-linecap="round"/>
<path d="M531.9 312.6L534.6 312.7L537.3 312.7L540.0 313.7" stroke="#B0109F" stroke-width="1.6" fill="none" stroke-linejoin="round" stroke-linecap="round"/>
<path d="M531.9 313.3L534.6 314.3L537.3 313.8L540.0 313.8" stroke="#000080" stroke-width="3.0" fill="none" stroke-linejoin="round" stroke-linecap="round"/>
<path d="M540.0 313.5L542.7 314.1" stroke="#00C8F8" stroke-width="2.0" fill="none" stroke-linejoin="round" stroke-linecap="round"/>
<path d="M540.0 312.4L542.7 313.6" stroke="#FF0000" stroke-width="1.8" fill="none" stroke-linejoin="round" stroke-linecap="round"/>
<path d="M540.0 314.2L542.7 313.6" stroke="#FF60F0" stroke-width="1.5" fill="none" stroke-linejoin="round" stroke-linecap="round"/>
<path d="M540.0 312.7L542.7 314.0" stroke="#80FFFF" stroke-width="1.8" fill="none" stroke-linejoin="round" stroke-linecap="round"/>
<path d="M540.0 313.2L542.7 313.3" stroke="#0000F0" stroke-width="1.8" fill="none" stroke-linejoin="round" stroke-linecap="round"/>
<path d="M540.0 314.3L542.7 314.3" stroke="#FF00FF" stroke-width="1.5" fill="none" stroke-linejoin="round" stroke-linecap="round"/>
<path d="M540.0 313.8L542.7 314.0" stroke="#000080" stroke-width="3.0" fill="none" stroke-linejoin="round" stroke-linecap="round"/>
<path d="M540.0 314.6L542.7 314.3" stroke="#00FFFF" stroke-width="2.4" fill="none" stroke-linejoin="round" stroke-linecap="round"/>
<path d="M540.0 312.2L542.7 313.2" stroke="#00F000" stroke-width="2.2" fill="none" stroke-linejoin="round" stroke-linecap="round"/>
<path d="M540.0 314.1L542.7 314.8" stroke="#FF1010" stroke-width="1.6" fill="none" stroke-linejoin="round" stroke-linecap="round"/>
<path d="M540.0 314.7L542.7 314.6" stroke="#C00000" stroke-width="1.8" fill="none" stroke-linejoin="round" stroke-linecap="round"/>
<path d="M540.0 313.7L542.7 315.1" stroke="#B0109F" stroke-width="1.6" fill="none" stroke-linejoin="round" stroke-linecap="round"/>
<path d="M540.0 313.8L542.7 313.4" stroke="#008888" stroke-width="1.8" fill="none" stroke-linejoin="round" stroke-linecap="round"/>
<path d="M64.4 313.6L65.4 313.3L66.4 313.0L67.4 312.8L68.4 312.5L69.4 312.2L70.4 311.7L71.4 311.1L72.4 310.5L73.4 309.9L74.4 309.4L75.4 308.9L76.4 308.4L77.4 307.9L78.4 307.4L79.4 306.4L80.4 305.2L81.4 304.4L82.4 303.5L83.4 302.7L84.4 301.9L85.4 301.0L86.4 299.6L87.4 298.2L88.4 297.1L89.4 296.0L90.4 294.9L91.4 293.3L92.4 290.7L93.4 288.5L94.4 286.5L95.4 284.5L96.4 282.5L97.4 280.5L98.4 278.5L99.4 276.4L100.4 274.3L101.4 272.3L102.4 269.9L103.4 267.1L104.4 264.3L105.4 261.7L106.4 259.1L107.4 256.5L108.4 253.9L109.4 251.0L110.4 248.2L111.4 245.4L112.4 242.1L113.4 238.7L114.4 235.3L115.4 231.6L116.4 227.7L117.4 223.0L118.4 218.3L119.4 213.6L120.4 208.8L121.4 204.2L122.4 199.8L123.4 195.4L124.4 191.3L125.4 187.1L126.4 183.0L127.4 179.0L128.4 175.0L129.4 170.9L130.4 166.9L131.4 162.7L132.4 158.5L133.4 154.3L134.4 150.0L135.4 146.0L136.4 142.0L137.4 138.0L138.4 134.0L139.4 129.5L140.4 124.8L141.4 120.1L142.4 115.6L143.4 111.4L144.4 107.3L145.4 103.1L146.4 97.5L147.4 93.3L148.4 89.0L149.4 84.8L150.4 80.5L151.4 76.8L152.4 73.1L153.4 69.5L154.4 65.8L155.4 62.6L156.4 59.4L157.4 56.6L158.4 54.5L159.4 52.4L160.4 50.2L161.4 47.8L162.4 45.3L163.4 42.8L164.4 40.5L165.4 38.4L166.4 36.3L167.4 34.8L168.4 34.4L169.4 34.0L170.4 33.0L171.4 31.9L172.4 31.0L173.4 30.1L174.4 30.2L175.4 30.4L176.4 30.4L177.4 30.2L178.4 29.9L179.4 30.1L180.4 30.7L181.4 31.6L182.4 32.9L183.4 34.0L184.4 35.0L185.4 36.0L186.4 37.3L187.4 38.9L188.4 41.0L189.4 43.2L190.4 45.0L191.4 46.8L192.4 48.1L193.4 49.8L194.4 52.4L195.4 55.0L196.4 57.0L197.4 59.6L198.4 63.0L199.4 66.3L200.4 69.6L201.4 72.9L202.4 76.3L203.4 79.6L204.4 83.0L205.4 86.3L206.4 89.9L207.4 93.7L208.4 97.6L209.4 101.5L210.4 104.5L211.4 107.4L212.4 110.3L213.4 113.6L214.4 117.1L215.4 120.6L216.4 124.0L217.4 127.3L218.4 130.7L219.4 133.9L220.4 137.1L221.4 140.3L222.4 143.6L223.4 147.2L224.4 150.8L225.4 155.0L226.4 159.1L227.4 163.3L228.4 167.4L229.4 171.6L230.4 175.3L231.4 178.8L232.4 182.4L233.4 186.0L234.4 189.4L235.4 192.7L236.4 196.0L237.4 199.3L238.4 202.3L239.4 205.3L240.4 208.2L241.4 211.2L242.4 214.2L243.4 217.2L244.4 219.7L245.4 221.8L246.4 224.2L247.4 226.8L248.4 229.2L249.4 231.8L250.4 234.2L251.4 236.4L252.4 238.1L253.4 239.9L254.4 241.6L255.4 243.4L256.4 245.1L257.4 246.3L258.4 247.6L259.4 248.8L260.4 250.0L261.4 251.3L262.4 252.2L263.4 252.9L264.4 253.6L265.4 254.3L266.4 255.0L267.4 255.6L268.4 256.3L269.4 257.0L270.4 257.5L271.4 257.9L272.4 258.2L273.4 258.5L274.4 258.8L275.4 259.2L276.4 259.5L277.4 259.8L278.4 260.1L279.4 260.2L280.4 260.3L281.4 260.4L282.4 260.5L283.4 260.6L284.4 260.6L285.4 260.7L286.4 260.7L287.4 260.7L288.4 260.7L289.4 260.7L290.4 260.7L291.4 260.7L292.4 260.7L293.4 260.7L294.4 260.7L295.4 261.0L296.4 261.3L297.4 261.6L298.4 262.0L299.4 262.3L300.4 262.6L301.4 262.9L302.4 263.3L303.4 263.7L304.4 264.3L305.4 264.8L306.4 265.3L307.4 265.9L308.4 266.4L309.4 266.9L310.4 267.5L311.4 268.0L312.4 268.6L313.4 269.1L314.4 269.7L315.4 270.3L316.4 270.8L317.4 271.4L318.4 272.0L319.4 272.5L320.4 273.1L321.4 273.6L322.4 274.2L323.4 274.8L324.4 275.3L325.4 275.9L326.4 276.4L327.4 277.0L328.4 277.5L329.4 278.1L330.4 278.6L331.4 279.2L332.4 279.7L333.4 280.3L334.4 280.9L335.4 281.5L336.4 282.1L337.4 282.7L338.4 283.1L339.4 283.5L340.4 283.9L341.4 284.3L342.4 284.7L343.4 285.1L344.4 285.5L345.4 285.9L346.4 286.3L347.4 286.6L348.4 287.0L349.4 287.4L350.4 287.8L351.4 288.2L352.4 288.7L353.4 289.2L354.4 289.7L355.4 290.2L356.4 290.7L357.4 291.2L358.4 291.7L359.4 292.2L360.4 292.7L361.4 293.2L362.4 293.7L363.4 294.0L364.4 294.4L365.4 294.7L366.4 295.0L367.4 295.4L368.4 295.7L369.4 296.1L370.4 296.4L371.4 296.7L372.4 297.1L373.4 297.4L374.4 297.7L375.4 298.1L376.4 298.4L377.4 298.7L378.4 299.1L379.4 299.4L380.4 299.8L381.4 300.1L382.4 300.4L383.4 300.8L384.4 301.1L385.4 301.5L386.4 301.8L387.4 302.0L388.4 302.3L389.4 302.5L390.4 302.7L391.4 302.9L392.4 303.1L393.4 303.3L394.4 303.5L395.4 303.8L396.4 304.0L397.4 304.2L398.4 304.4L399.4 304.6L400.4 304.8L401.4 305.1L402.4 305.3L403.4 305.5L404.4 305.7L405.4 305.9L406.4 306.2L407.4 306.4L408.4 306.6L409.4 306.8L410.4 307.0L411.4 307.3L412.4 307.5L413.4 307.7L414.4 308.0L415.4 308.2L416.4 308.5L417.4 308.7L418.4 309.0L419.4 309.2L420.4 309.5L421.4 309.7L422.4 310.0L423.4 310.2L424.4 310.4L425.4 310.5L426.4 310.7L427.4 310.8L428.4 311.0L429.4 311.1L430.4 311.2L431.4 311.4L432.4 311.5L433.4 311.7L434.4 311.8L435.4 312.0L436.4 312.1L437.4 312.3L438.4 312.4L439.4 312.5L440.4 312.6L441.4 312.6L442.4 312.7L443.4 312.8L444.4 312.8L445.4 312.9L446.4 312.9L447.4 313.0L448.4 313.1L449.4 313.1L450.4 313.2L451.4 313.2L452.4 313.3L453.4 313.3L454.4 313.4L455.4 313.4L456.4 313.5L457.4 313.5L458.4 313.6L459.4 313.6L460.4 313.7L461.4 313.7L462.4 313.8L463.4 313.8L464.4 313.8L465.4 313.9L466.4 313.9L467.4 314.0L468.4 314.0L469.4 314.1L470.4 314.1L471.4 314.2L472.4 314.2L473.4 314.3L474.4 314.3L475.4 314.4L476.4 314.4L477.4 314.5L478.4 314.5L479.4 314.6L480.4 314.6L481.4 314.7L482.4 314.7L483.4 314.7L484.4 314.8L485.4 314.8L486.4 314.9L487.4 314.9L488.4 314.9L489.4 315.0L490.4 315.0L491.4 315.1L492.4 315.1L493.4 315.1L494.4 315.2L495.4 315.2L496.4 315.3L497.4 315.3L498.4 315.3L499.4 315.4L500.4 315.4L501.4 315.5L502.4 315.5L503.4 315.5L504.4 315.6L505.4 315.6L506.4 315.7L507.4 315.7L508.4 315.7L509.4 315.8L510.4 315.8L511.4 315.9L512.4 315.9L513.4 315.9L514.4 316.0L515.4 316.0L516.4 316.1L517.4 316.1L518.4 316.1L519.4 316.2L520.4 316.2L521.4 316.3L522.4 316.3L523.4 316.4L524.4 316.4L525.4 316.5L526.4 316.6L527.4 316.6L528.4 316.7L529.4 316.7L530.4 316.8L531.4 316.8L532.4 316.9L533.4 317.0L534.4 317.0L535.4 317.1L536.4 317.1L537.4 317.2L538.4 317.2L539.4 317.3L540.4 317.4L541.4 317.4L542.4 317.5" stroke="#0000FF" stroke-width="2.8" fill="none" stroke-linecap="round" stroke-dasharray="3.8 5.5" stroke-dashoffset="-1.35"/>
</g>
<line x1="46.5" y1="10" x2="46.5" y2="320" stroke="#000" stroke-width="1"/><line x1="46" y1="319.5" x2="544" y2="319.5" stroke="#000" stroke-width="1"/><line x1="42" y1="319.50" x2="46" y2="319.50" stroke="#000" stroke-width="1"/><line x1="42" y1="285.17" x2="46" y2="285.17" stroke="#000" stroke-width="1"/><line x1="42" y1="250.83" x2="46" y2="250.83" stroke="#000" stroke-width="1"/><line x1="42" y1="216.50" x2="46" y2="216.50" stroke="#000" stroke-width="1"/><line x1="42" y1="182.17" x2="46" y2="182.17" stroke="#000" stroke-width="1"/><line x1="42" y1="147.83" x2="46" y2="147.83" stroke="#000" stroke-width="1"/><line x1="42" y1="113.50" x2="46" y2="113.50" stroke="#000" stroke-width="1"/><line x1="42" y1="79.17" x2="46" y2="79.17" stroke="#000" stroke-width="1"/><line x1="42" y1="44.83" x2="46" y2="44.83" stroke="#000" stroke-width="1"/><line x1="42" y1="10.50" x2="46" y2="10.50" stroke="#000" stroke-width="1"/><line x1="46.5" y1="319" x2="46.5" y2="323" stroke="#000" stroke-width="1"/><line x1="141.5" y1="319" x2="141.5" y2="323" stroke="#000" stroke-width="1"/><line x1="237.5" y1="319" x2="237.5" y2="323" stroke="#000" stroke-width="1"/><line x1="333.5" y1="319" x2="333.5" y2="323" stroke="#000" stroke-width="1"/><line x1="428.5" y1="319" x2="428.5" y2="323" stroke="#000" stroke-width="1"/><line x1="524.5" y1="319" x2="524.5" y2="323" stroke="#000" stroke-width="1"/>
<text x="35" y="322.90" text-anchor="end">0</text><text x="35" y="288.57" text-anchor="end">20</text><text x="35" y="254.23" text-anchor="end">40</text><text x="35" y="219.90" text-anchor="end">60</text><text x="35" y="185.57" text-anchor="end">80</text><text x="35" y="151.23" text-anchor="end">100</text><text x="35" y="116.90" text-anchor="end">120</text><text x="35" y="82.57" text-anchor="end">140</text><text x="35" y="48.23" text-anchor="end">160</text><text x="35" y="13.90" text-anchor="end">180</text><text x="46.5" y="339.2" text-anchor="middle">300</text><text x="141.5" y="339.2" text-anchor="middle">350</text><text x="237.5" y="339.2" text-anchor="middle">400</text><text x="333.5" y="339.2" text-anchor="middle">450</text><text x="428.5" y="339.2" text-anchor="middle">500</text><text x="524.5" y="339.2" text-anchor="middle">550</text>
<text class="t" x="309.5" y="357.5" text-anchor="middle" textLength="121" lengthAdjust="spacingAndGlyphs">wavelenghth [nm]</text>
<text class="t" transform="translate(14.8,191) rotate(-90)" x="0" y="0" text-anchor="middle" textLength="205" lengthAdjust="spacingAndGlyphs">relative fluorescence intensity</text>
</svg>
</body></html>
